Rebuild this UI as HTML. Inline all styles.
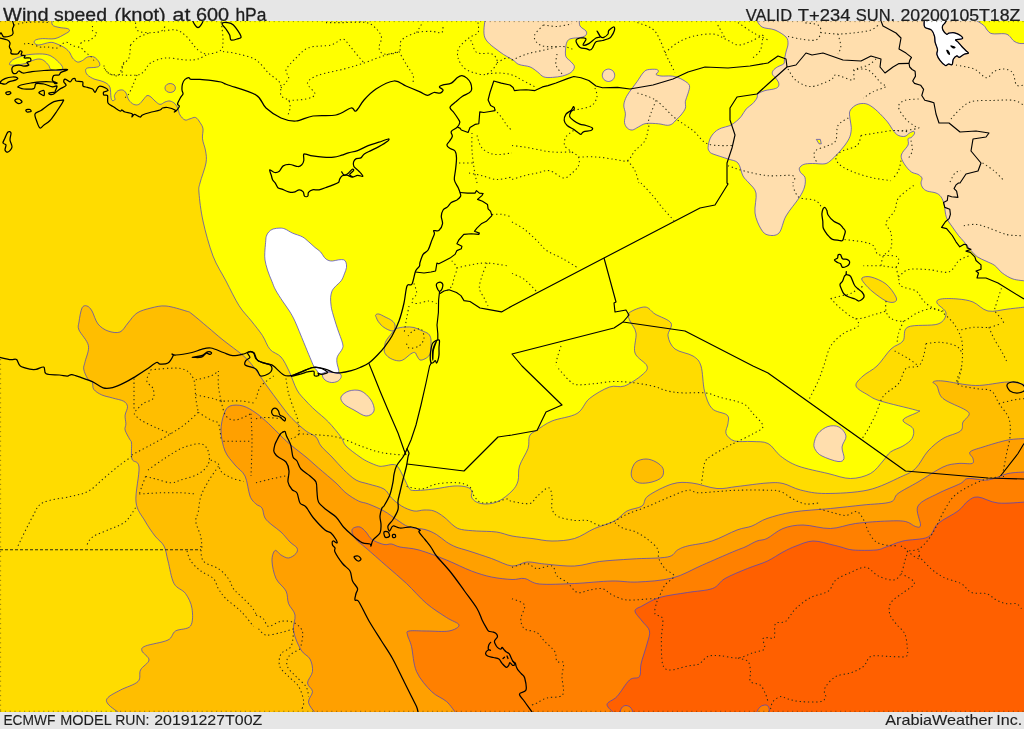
<!DOCTYPE html>
<html><head><meta charset="utf-8"><title>Wind speed</title>
<style>
html,body{margin:0;padding:0;background:#e6e6e6;}
body{width:1024px;height:729px;overflow:hidden;position:relative;font-family:"Liberation Sans",sans-serif;}
svg{position:absolute;left:0;top:0;display:block}
</style></head><body>
<svg width="1024" height="729" viewBox="0 0 1024 729">
<defs><filter id="tf" x="0" y="0" width="1" height="1" filterUnits="objectBoundingBox"><feOffset dx="0" dy="0"/></filter><clipPath id="m"><rect x="0" y="21" width="1024" height="691"/></clipPath></defs>
<rect x="0" y="0" width="1024" height="729" fill="#e6e6e6"/>
<g font-family="Liberation Sans, sans-serif" fill="#1e1e1e" stroke="#1e1e1e" filter="url(#tf)">
<text y="21.2" font-size="18.6" stroke-width="0.3"><tspan x="3.1" textLength="45.4" lengthAdjust="spacingAndGlyphs">Wind</tspan> <tspan x="54.0" textLength="53.0" lengthAdjust="spacingAndGlyphs">speed</tspan> <tspan x="114.6" textLength="51.2" lengthAdjust="spacingAndGlyphs">(knot)</tspan> <tspan x="172.6" textLength="17.8" lengthAdjust="spacingAndGlyphs">at</tspan> <tspan x="196.0" textLength="33.1" lengthAdjust="spacingAndGlyphs">600</tspan> <tspan x="235.4" textLength="31.0" lengthAdjust="spacingAndGlyphs">hPa</tspan></text>
<text y="21.0" font-size="16.8" stroke-width="0.25"><tspan x="745.7" textLength="46.4" lengthAdjust="spacingAndGlyphs">VALID</tspan> <tspan x="797.8" textLength="52.6" lengthAdjust="spacingAndGlyphs">T+234</tspan> <tspan x="855.8" textLength="39.4" lengthAdjust="spacingAndGlyphs">SUN.</tspan> <tspan x="900.5" textLength="119.8" lengthAdjust="spacingAndGlyphs">20200105T18Z</tspan></text>
<text y="725.1" font-size="14.2" stroke-width="0.12"><tspan x="3.4" textLength="52.0" lengthAdjust="spacingAndGlyphs">ECMWF</tspan> <tspan x="60.3" textLength="50.9" lengthAdjust="spacingAndGlyphs">MODEL</tspan> <tspan x="115.2" textLength="34.3" lengthAdjust="spacingAndGlyphs">RUN:</tspan> <tspan x="154.2" textLength="108.1" lengthAdjust="spacingAndGlyphs">20191227T00Z</tspan></text>
<text y="725.4" font-size="14.2" stroke-width="0.12"><tspan x="885.2" textLength="107.8" lengthAdjust="spacingAndGlyphs">ArabiaWeather</tspan> <tspan x="996.3" textLength="25.9" lengthAdjust="spacingAndGlyphs">Inc.</tspan></text>
</g>
<g clip-path="url(#m)">
<rect x="0" y="21" width="1024" height="691" fill="#ffff00"/>

<path d="M52.0,19.0 C52.1,20.0 51.3,23.6 52.5,25.0 C53.7,26.4 56.5,26.8 59.0,27.4 C61.5,28.0 65.8,28.0 67.5,28.6 C69.2,29.2 69.8,30.1 69.4,31.0 C69.0,31.9 67.4,32.7 65.0,34.0 C62.6,35.3 58.8,37.8 55.0,38.6 C51.2,39.4 45.7,38.4 42.5,38.6 C39.3,38.8 37.0,39.3 35.6,40.0 C34.2,40.7 33.9,42.2 34.4,43.0 C34.9,43.8 36.2,45.1 38.8,45.0 C41.4,44.9 47.1,42.6 50.0,42.4 C52.9,42.2 53.5,42.7 56.0,43.6 C58.5,44.5 62.7,46.4 65.0,48.0 C67.3,49.6 68.8,51.3 70.0,53.0 C71.2,54.7 71.2,56.5 72.5,58.0 C73.8,59.5 75.8,61.6 77.5,62.0 C79.2,62.4 80.8,61.3 82.5,60.5 C84.2,59.7 85.6,57.6 87.5,57.0 C89.4,56.4 92.1,56.2 94.0,57.0 C95.9,57.8 98.1,60.5 99.0,62.0 C99.9,63.5 100.1,65.1 99.4,66.0 C98.7,66.9 97.0,67.1 95.0,67.4 C93.0,67.7 89.1,67.5 87.5,68.0 C85.9,68.5 85.6,69.3 85.6,70.5 C85.6,71.7 86.1,73.6 87.5,75.0 C88.9,76.4 91.9,78.1 94.0,79.0 C96.1,79.9 98.0,79.9 100.0,80.6 C102.0,81.3 104.3,81.8 106.0,83.0 C107.7,84.2 109.2,85.1 110.0,87.5 C110.8,89.9 110.6,95.3 111.0,97.5 C111.4,99.7 111.8,100.3 112.5,100.6 C113.2,100.9 114.7,100.2 115.0,99.4 C115.3,98.6 114.0,97.0 114.4,95.6 C114.8,94.2 116.2,91.9 117.5,91.0 C118.8,90.1 121.1,89.7 122.5,90.0 C123.9,90.3 125.0,91.3 126.0,93.0 C127.0,94.7 127.5,98.1 128.8,100.0 C130.1,101.9 132.1,103.7 133.8,104.4 C135.5,105.1 137.3,105.1 138.8,104.4 C140.3,103.7 141.6,101.5 143.0,100.0 C144.4,98.5 145.7,96.1 147.0,95.6 C148.3,95.1 149.7,96.1 151.0,97.0 C152.3,97.9 153.5,99.8 155.0,101.0 C156.5,102.2 158.3,104.2 160.0,104.4 C161.7,104.6 163.3,102.6 165.0,102.0 C166.7,101.4 168.3,100.7 170.0,101.0 C171.7,101.3 173.7,102.5 175.0,103.8 C176.3,105.1 177.2,106.9 178.0,108.8 C178.8,110.7 178.8,113.1 180.0,115.0 C181.2,116.9 183.3,119.4 185.0,120.0 C186.7,120.6 188.2,119.2 190.0,118.8 C191.8,118.4 193.9,116.9 195.6,117.5 C197.3,118.1 198.8,120.6 200.0,122.5 C201.2,124.4 202.6,126.1 203.0,128.8 C203.4,131.5 202.1,135.1 202.5,138.8 C202.9,142.5 205.0,147.0 205.6,151.0 C206.2,155.0 206.9,157.7 206.0,163.0 C205.1,168.3 201.2,178.0 200.0,183.0 C198.8,188.0 198.5,186.7 199.0,193.0 C199.5,199.3 200.7,210.5 203.0,221.0 C205.3,231.5 209.2,246.0 213.0,256.0 C216.8,266.0 221.7,272.7 226.0,281.0 C230.3,289.3 234.8,298.9 239.0,305.6 C243.2,312.3 247.5,316.0 251.4,321.0 C255.3,326.0 259.3,330.7 262.4,335.4 C265.5,340.1 266.9,345.8 270.0,349.4 C273.1,353.0 277.8,353.4 281.0,357.0 C284.2,360.6 286.3,365.5 289.0,371.0 C291.7,376.5 294.2,385.0 297.0,390.0 C299.8,395.0 303.0,397.7 306.0,401.0 C309.0,404.3 311.2,406.5 315.0,410.0 C318.8,413.5 324.2,417.5 328.5,422.0 C332.8,426.5 338.1,433.0 341.0,437.0 C343.9,441.0 342.8,442.7 346.0,446.0 C349.2,449.3 356.2,454.3 360.0,457.0 C363.8,459.7 365.4,460.5 368.5,462.0 C371.6,463.5 375.9,465.3 378.5,466.0 C381.1,466.7 381.6,466.2 384.0,466.0 C386.4,465.8 390.7,464.3 393.0,464.5 C395.3,464.7 396.2,464.8 398.0,467.0 C399.8,469.2 402.2,474.5 404.0,478.0 C405.8,481.5 407.3,485.9 409.0,488.0 C410.7,490.1 409.8,490.3 414.0,490.5 C418.2,490.7 427.3,489.8 434.0,489.0 C440.7,488.2 448.6,486.3 454.0,486.0 C459.4,485.7 463.5,486.2 466.5,487.0 C469.5,487.8 471.2,489.3 472.0,491.0 C472.8,492.7 470.8,495.2 471.5,497.0 C472.2,498.8 474.0,500.8 476.5,502.0 C479.0,503.2 482.8,504.2 486.5,504.0 C490.2,503.8 494.8,503.2 499.0,501.0 C503.2,498.8 508.8,494.3 512.0,491.0 C515.2,487.7 516.8,485.2 518.0,481.0 C519.2,476.8 517.8,471.4 519.5,466.0 C521.2,460.6 526.3,453.5 528.0,448.5 C529.7,443.5 528.0,439.1 529.5,436.0 C531.0,432.9 533.2,432.5 537.0,430.0 C540.8,427.5 545.3,423.8 552.0,421.0 C558.7,418.2 570.8,417.2 577.0,413.5 C583.2,409.8 584.1,402.9 589.5,398.5 C594.9,394.1 603.7,389.1 609.5,387.0 C615.3,384.9 619.1,388.0 624.5,386.0 C629.9,384.0 638.2,378.3 642.0,375.0 C645.8,371.7 648.2,369.7 647.0,366.0 C645.8,362.3 636.8,358.5 635.0,353.0 C633.2,347.5 636.8,338.3 636.0,333.0 C635.2,327.7 631.2,324.3 630.0,321.0 C628.8,317.7 626.5,315.3 629.0,313.0 C631.5,310.7 640.7,306.8 645.0,307.0 C649.3,307.2 650.7,311.3 655.0,314.0 C659.3,316.7 668.8,319.3 671.0,323.0 C673.2,326.7 667.3,331.7 668.0,336.0 C668.7,340.3 670.8,345.7 675.0,349.0 C679.2,352.3 688.7,353.2 693.0,356.0 C697.3,358.8 699.1,360.2 701.0,366.0 C702.9,371.8 702.7,383.9 704.5,391.0 C706.3,398.1 708.2,404.5 712.0,408.5 C715.8,412.5 724.3,412.5 727.0,415.0 C729.7,417.5 728.2,420.4 728.0,423.5 C727.8,426.6 724.9,430.6 726.0,433.5 C727.1,436.4 730.2,439.7 734.5,441.0 C738.8,442.3 746.4,441.1 752.0,441.5 C757.6,441.9 763.2,441.1 768.0,443.5 C772.8,445.9 775.5,452.2 780.5,456.0 C785.5,459.8 790.1,463.1 798.0,466.0 C805.9,468.9 819.2,471.4 828.0,473.5 C836.8,475.6 843.4,478.5 850.5,478.5 C857.6,478.5 865.1,476.4 870.5,473.5 C875.9,470.6 879.7,464.6 883.0,461.0 C886.3,457.4 887.2,454.5 890.5,452.0 C893.8,449.5 899.4,448.2 903.0,446.0 C906.6,443.8 910.3,441.4 912.0,438.5 C913.7,435.6 914.5,431.6 913.0,428.5 C911.5,425.4 902.2,422.8 903.0,420.0 C903.8,417.2 915.9,413.7 918.0,412.0 C920.1,410.3 921.8,411.8 915.5,410.0 C909.2,408.2 888.4,403.5 880.5,401.0 C872.6,398.5 872.1,397.5 868.0,395.0 C863.9,392.5 856.8,389.2 856.0,386.0 C855.2,382.8 859.5,379.3 863.0,376.0 C866.5,372.7 872.3,370.5 877.0,366.0 C881.7,361.5 886.7,353.2 891.0,349.0 C895.3,344.8 900.2,344.7 903.0,341.0 C905.8,337.3 902.2,329.8 908.0,327.0 C913.8,324.2 931.7,326.3 938.0,324.0 C944.3,321.7 946.2,316.5 946.0,313.0 C945.8,309.5 937.8,305.3 937.0,303.0 C936.2,300.7 937.5,299.7 941.0,299.0 C944.5,298.3 952.7,298.5 958.0,299.0 C963.3,299.5 968.0,300.0 973.0,302.0 C978.0,304.0 982.2,309.8 988.0,311.0 C993.8,312.2 1001.7,309.7 1008.0,309.0 C1014.3,308.3 1023.0,307.3 1026.0,307.0 L1030.0,307.0 L1030.0,720.0 L-5.0,720.0 L-5.0,15.0 L51.0,15.0Z" fill="#ffdc00" stroke="#4a40c8" stroke-opacity="0.72" stroke-width="1.0" stroke-linejoin="round"/>
<path d="M9.4,64.0 C9.7,63.2 10.7,61.2 12.5,60.0 C14.3,58.8 17.3,57.7 20.0,56.8 C22.7,55.9 25.1,55.1 28.8,54.6 C32.5,54.1 38.8,53.8 42.5,54.0 C46.2,54.2 48.5,54.8 51.0,56.0 C53.5,57.2 55.7,59.3 57.5,61.0 C59.3,62.7 61.2,64.7 62.0,66.0 C62.8,67.3 62.8,68.2 62.5,69.0 C62.2,69.8 61.9,70.4 60.0,70.5 C58.1,70.6 52.9,70.3 51.0,69.5 C49.1,68.7 50.0,67.0 48.8,65.5 C47.6,64.0 45.5,61.6 43.8,60.5 C42.1,59.4 40.7,59.0 38.8,59.0 C36.9,59.0 34.8,59.7 32.5,60.5 C30.2,61.3 27.8,62.9 25.0,63.6 C22.2,64.3 18.3,64.8 16.0,65.0 C13.7,65.2 12.1,65.2 11.0,65.0 C9.9,64.8 9.2,64.8 9.4,64.0Z" fill="#ffff00" stroke="#4a40c8" stroke-opacity="0.72" stroke-width="1.0" stroke-linejoin="round"/>
<path d="M165.0,88.0 C165.0,86.9 165.6,85.5 166.5,84.8 C167.4,84.0 168.9,83.5 170.2,83.5 C171.4,83.5 173.1,84.0 174.0,84.8 C174.9,85.5 175.4,86.9 175.4,88.0 C175.4,89.1 174.9,90.5 174.0,91.2 C173.1,92.0 171.4,92.5 170.2,92.5 C168.9,92.5 167.4,92.0 166.5,91.2 C165.6,90.5 165.0,89.1 165.0,88.0Z" fill="#ffdc00" stroke="#4a40c8" stroke-opacity="0.72" stroke-width="1.0" stroke-linejoin="round"/>
<path d="M375.6,315.0 C376.0,314.4 377.2,313.7 378.8,314.0 C380.4,314.3 382.8,315.8 385.0,316.9 C387.2,318.0 390.2,319.2 391.9,320.6 C393.6,322.0 394.7,323.3 395.0,325.0 C395.3,326.7 394.8,329.8 393.8,330.6 C392.8,331.4 390.7,330.7 388.8,330.0 C386.9,329.3 384.3,327.8 382.5,326.3 C380.7,324.9 379.1,322.8 378.1,321.3 C377.1,319.8 376.7,318.6 376.3,317.5 C375.9,316.4 375.2,315.6 375.6,315.0Z" fill="#ffdc00" stroke="#4a40c8" stroke-opacity="0.72" stroke-width="1.0" stroke-linejoin="round"/>
<path d="M392.0,333.0 C393.6,331.0 393.7,329.8 395.9,328.8 C398.1,327.8 402.0,327.2 405.0,327.0 C408.0,326.8 411.2,326.9 414.0,327.5 C416.8,328.1 419.1,329.6 421.5,330.6 C423.9,331.7 426.8,332.4 428.4,333.8 C430.0,335.2 430.5,337.1 430.9,338.8 C431.3,340.5 431.0,342.1 431.0,344.0 C431.0,345.9 431.1,348.2 430.9,350.0 C430.7,351.8 430.6,353.5 429.6,355.0 C428.6,356.5 426.6,358.0 425.0,358.8 C423.4,359.6 421.3,360.5 420.0,360.0 C418.7,359.5 417.8,357.2 417.0,356.0 C416.2,354.8 416.0,352.9 415.0,352.5 C414.0,352.1 412.9,352.6 410.9,353.8 C408.9,355.1 405.2,358.9 402.8,360.0 C400.4,361.1 398.8,361.0 396.5,360.6 C394.2,360.2 391.0,358.9 389.0,357.5 C387.0,356.1 385.3,354.2 384.6,352.5 C383.9,350.8 384.4,348.9 384.6,347.0 C384.8,345.1 384.8,343.3 386.0,341.0 C387.2,338.7 390.4,335.0 392.0,333.0Z" fill="#ffdc00" stroke="#4a40c8" stroke-opacity="0.72" stroke-width="1.0" stroke-linejoin="round"/>
<path d="M862.0,278.0 C863.1,276.9 867.0,276.0 871.0,277.0 C875.0,278.0 881.8,280.7 886.0,284.0 C890.2,287.3 894.6,294.0 896.0,297.0 C897.4,300.0 896.2,301.3 894.5,302.0 C892.8,302.7 889.6,302.7 886.0,301.0 C882.4,299.3 876.6,294.9 873.0,292.0 C869.4,289.1 866.3,285.8 864.5,283.5 C862.7,281.2 860.9,279.1 862.0,278.0Z" fill="#ffdc00" stroke="#4a40c8" stroke-opacity="0.72" stroke-width="1.0" stroke-linejoin="round"/>
<path d="M120.5,714.0 C118.4,712.3 110.1,706.8 108.0,704.0 C105.9,701.2 105.9,699.8 108.0,697.5 C110.1,695.2 115.5,692.7 120.5,690.0 C125.5,687.3 134.7,684.8 138.0,681.5 C141.3,678.2 138.7,673.6 140.5,670.0 C142.3,666.4 148.8,663.2 149.0,660.0 C149.2,656.8 142.6,653.3 142.0,651.0 C141.4,648.7 141.2,647.8 145.5,646.0 C149.8,644.2 163.0,642.5 168.0,640.0 C173.0,637.5 171.8,633.3 175.5,631.0 C179.2,628.7 187.8,629.8 190.5,626.0 C193.2,622.2 192.8,613.9 192.0,608.5 C191.2,603.1 188.5,597.7 185.5,593.5 C182.5,589.3 176.9,588.9 174.0,583.5 C171.1,578.1 169.7,567.2 168.0,561.0 C166.3,554.8 166.2,550.2 164.0,546.0 C161.8,541.8 158.2,540.2 155.0,536.0 C151.8,531.8 148.2,526.7 145.0,521.0 C141.8,515.3 137.0,511.0 136.0,502.0 C135.0,493.0 139.7,474.2 139.0,467.0 C138.3,459.8 133.2,463.0 132.0,459.0 C130.8,455.0 131.9,446.2 131.5,443.0 C131.1,439.8 130.9,441.6 129.8,439.5 C128.7,437.4 125.8,432.7 125.1,430.1 C124.4,427.5 125.9,426.3 125.9,423.8 C125.9,421.3 124.8,418.1 125.1,415.2 C125.4,412.3 127.8,408.9 127.5,406.6 C127.2,404.3 126.1,402.6 123.6,401.2 C121.1,399.8 116.2,399.1 112.6,398.0 C108.9,396.9 104.8,396.3 101.7,394.9 C98.6,393.5 95.4,391.5 93.8,389.4 C92.2,387.3 93.3,384.2 92.3,382.4 C91.3,380.6 89.0,380.7 87.6,378.5 C86.2,376.3 84.1,372.0 83.7,369.1 C83.3,366.2 84.4,365.2 85.2,361.3 C86.0,357.4 89.4,350.8 88.4,345.6 C87.4,340.4 80.6,333.9 79.0,330.0 C77.4,326.1 78.5,325.7 79.0,322.0 C79.5,318.3 80.7,310.7 82.0,308.0 C83.3,305.3 85.3,305.5 87.0,306.0 C88.7,306.5 90.2,308.0 92.0,311.0 C93.8,314.0 95.3,320.7 98.0,324.0 C100.7,327.3 104.3,329.7 108.0,331.0 C111.7,332.3 116.7,333.3 120.0,332.0 C123.3,330.7 125.2,326.2 128.0,323.0 C130.8,319.8 133.2,315.5 137.0,313.0 C140.8,310.5 146.2,309.2 151.0,308.0 C155.8,306.8 160.2,305.5 166.0,306.0 C171.8,306.5 181.7,309.7 186.0,311.0 C190.3,312.3 188.4,311.3 192.0,314.0 C195.6,316.7 202.4,322.7 207.6,327.0 C212.8,331.3 217.0,335.2 223.0,340.0 C229.0,344.8 238.3,351.3 243.6,356.0 C248.8,360.7 250.8,363.3 254.5,368.0 C258.1,372.7 261.1,377.8 265.5,384.0 C269.9,390.2 276.6,399.2 281.0,405.0 C285.4,410.8 287.8,414.2 292.0,418.5 C296.2,422.8 302.0,427.9 306.0,431.0 C310.0,434.1 313.5,434.5 316.0,437.0 C318.5,439.5 318.3,442.7 321.0,446.0 C323.7,449.3 328.2,453.1 332.0,457.0 C335.8,460.9 339.5,465.7 343.5,469.5 C347.5,473.3 351.8,477.6 356.0,480.0 C360.2,482.4 363.8,482.5 368.5,484.0 C373.2,485.5 380.2,486.7 384.0,489.0 C387.8,491.3 388.6,495.2 391.5,498.0 C394.4,500.8 397.8,503.8 401.5,506.0 C405.2,508.2 410.2,510.3 414.0,511.0 C417.8,511.7 420.7,510.0 424.0,510.0 C427.3,510.0 430.7,509.8 434.0,511.0 C437.3,512.2 440.7,514.5 444.0,517.0 C447.3,519.5 451.1,523.9 454.0,526.0 C456.9,528.1 457.8,528.7 461.5,529.5 C465.2,530.3 470.7,530.6 476.5,531.0 C482.3,531.4 490.6,531.2 496.5,532.0 C502.4,532.8 506.1,534.9 512.0,536.0 C517.9,537.1 525.3,537.7 532.0,538.5 C538.7,539.3 544.9,541.0 552.0,541.0 C559.1,541.0 567.4,540.6 574.5,538.5 C581.6,536.4 587.8,531.4 594.5,528.5 C601.2,525.6 609.1,523.9 614.5,521.0 C619.9,518.1 622.4,513.5 627.0,511.0 C631.6,508.5 638.5,508.5 642.0,506.0 C645.5,503.5 643.0,499.7 648.0,496.0 C653.0,492.3 664.7,486.2 672.0,484.0 C679.3,481.8 684.5,482.2 692.0,483.0 C699.5,483.8 709.5,487.9 717.0,488.5 C724.5,489.1 728.7,487.4 737.0,486.5 C745.3,485.6 759.3,483.5 767.0,483.0 C774.7,482.5 777.4,482.3 783.0,483.5 C788.6,484.7 793.4,488.3 800.5,490.0 C807.6,491.7 814.2,493.5 825.5,493.5 C836.8,493.5 855.5,492.8 868.0,490.0 C880.5,487.2 892.6,480.6 900.5,477.0 C908.4,473.4 910.9,472.8 915.5,468.5 C920.1,464.2 923.4,456.0 928.0,451.0 C932.6,446.0 937.6,441.8 943.0,438.5 C948.4,435.2 957.2,433.8 960.5,431.0 C963.8,428.2 961.6,424.7 963.0,422.0 C964.4,419.3 968.6,417.0 969.0,415.0 C969.4,413.0 969.8,412.8 965.5,410.0 C961.2,407.2 947.8,402.5 943.0,398.5 C938.2,394.5 938.7,388.8 937.0,386.0 C935.3,383.2 932.0,382.8 933.0,382.0 C934.0,381.2 935.9,380.4 943.0,381.0 C950.1,381.6 964.7,385.3 975.5,385.5 C986.3,385.7 999.6,382.1 1008.0,382.0 C1016.4,381.9 1023.0,384.5 1026.0,385.0 L1030.0,385.0 L1030.0,720.0 L120.0,720.0Z" fill="#ffbe00" stroke="#4a40c8" stroke-opacity="0.72" stroke-width="1.0" stroke-linejoin="round"/>
<path d="M631.5,471.0 C632.1,468.2 633.6,464.0 636.0,462.0 C638.4,460.0 642.7,459.0 646.0,459.0 C649.3,459.0 653.2,460.4 656.0,462.0 C658.8,463.6 662.0,466.0 663.0,468.5 C664.0,471.0 663.8,474.8 662.0,477.0 C660.2,479.2 655.8,481.0 652.0,482.0 C648.2,483.0 642.8,483.6 639.5,483.0 C636.2,482.4 633.8,480.5 632.5,478.5 C631.2,476.5 630.9,473.8 631.5,471.0Z" fill="#ffbe00" stroke="#4a40c8" stroke-opacity="0.72" stroke-width="1.0" stroke-linejoin="round"/>
<path d="M316.0,714.0 C314.8,712.1 309.1,706.2 308.5,702.5 C307.9,698.8 312.7,694.8 312.5,691.5 C312.3,688.2 307.5,686.3 307.5,683.0 C307.5,679.7 312.1,675.5 312.5,671.5 C312.9,667.5 311.9,662.6 310.0,659.0 C308.1,655.4 303.8,654.7 301.0,650.0 C298.2,645.3 294.5,636.8 293.5,631.0 C292.5,625.2 295.8,619.6 295.0,615.0 C294.2,610.4 290.0,607.5 288.5,603.5 C287.0,599.5 288.1,595.2 286.0,591.0 C283.9,586.8 278.3,583.5 276.0,578.5 C273.7,573.5 272.2,565.7 272.0,561.0 C271.8,556.3 273.5,551.5 275.0,550.5 C276.5,549.5 278.8,553.8 281.0,555.0 C283.2,556.2 286.0,558.2 288.5,558.0 C291.0,557.8 294.6,555.2 296.0,553.5 C297.4,551.8 298.0,549.9 297.0,548.0 C296.0,546.1 292.7,544.7 290.0,542.0 C287.3,539.3 284.0,534.8 281.0,532.0 C278.0,529.2 274.7,527.3 272.0,525.0 C269.3,522.7 266.7,520.8 265.0,518.0 C263.3,515.2 263.5,510.3 262.0,508.0 C260.5,505.7 258.0,506.0 256.0,504.0 C254.0,502.0 251.8,500.7 250.0,496.0 C248.2,491.3 247.5,481.2 245.0,476.0 C242.5,470.8 238.3,469.2 235.0,465.0 C231.7,460.8 227.3,456.7 225.0,451.0 C222.7,445.3 221.2,437.2 221.0,431.0 C220.8,424.8 222.5,418.2 224.0,414.0 C225.5,409.8 226.8,407.3 230.0,406.0 C233.2,404.7 238.7,404.8 243.0,406.0 C247.3,407.2 251.8,410.1 256.0,413.0 C260.2,415.9 264.3,419.7 268.5,423.5 C272.7,427.3 277.1,432.2 281.0,436.0 C284.9,439.8 287.8,442.5 292.0,446.0 C296.2,449.5 301.6,453.3 306.0,457.0 C310.4,460.7 313.5,463.7 318.5,468.0 C323.5,472.3 331.4,478.8 336.0,483.0 C340.6,487.2 342.2,490.0 346.0,493.0 C349.8,496.0 354.8,499.2 358.5,501.0 C362.2,502.8 364.2,502.3 368.5,504.0 C372.8,505.7 379.3,508.4 384.0,511.0 C388.7,513.6 392.3,516.8 396.5,519.5 C400.7,522.2 404.2,525.3 409.0,527.0 C413.8,528.7 420.4,528.2 425.0,529.5 C429.6,530.8 432.9,532.4 436.5,534.5 C440.1,536.6 443.2,539.9 446.5,542.0 C449.8,544.1 452.2,545.5 456.0,547.0 C459.8,548.5 463.1,549.1 469.0,551.0 C474.9,552.9 484.3,556.0 491.5,558.5 C498.7,561.0 506.1,565.4 512.0,566.0 C517.9,566.6 521.6,562.3 527.0,562.0 C532.4,561.7 536.6,563.3 544.5,564.0 C552.4,564.7 565.3,566.4 574.5,566.0 C583.7,565.6 589.9,562.7 599.5,561.5 C609.1,560.3 620.7,559.8 632.0,559.0 C643.3,558.2 659.9,558.5 667.5,557.0 C675.1,555.5 674.2,551.8 677.5,550.0 C680.8,548.2 681.8,547.5 687.5,546.0 C693.2,544.5 703.8,543.7 712.0,541.0 C720.2,538.3 730.3,532.5 737.0,530.0 C743.7,527.5 747.0,527.9 752.0,526.0 C757.0,524.1 760.2,520.8 767.0,518.5 C773.8,516.2 782.4,513.7 793.0,512.0 C803.6,510.3 818.8,509.7 830.5,508.5 C842.2,507.3 853.0,506.1 863.0,505.0 C873.0,503.9 884.7,503.9 890.5,502.0 C896.3,500.1 893.4,496.8 898.0,493.5 C902.6,490.2 910.5,486.4 918.0,482.0 C925.5,477.6 936.3,470.1 943.0,467.0 C949.7,463.9 953.2,464.1 958.0,463.5 C962.8,462.9 969.5,464.3 972.0,463.5 C974.5,462.7 973.3,460.4 973.0,458.5 C972.7,456.6 968.3,453.9 970.0,452.0 C971.7,450.1 976.7,449.0 983.0,447.0 C989.3,445.0 1000.8,441.4 1008.0,440.0 C1015.2,438.6 1023.0,438.8 1026.0,438.5 L1030.0,438.0 L1030.0,720.0 L316.0,720.0Z" fill="#ffa000" stroke="#4a40c8" stroke-opacity="0.72" stroke-width="1.0" stroke-linejoin="round"/>
<path d="M456.5,714.0 C454.8,711.9 450.7,705.2 446.5,701.5 C442.3,697.8 436.5,696.5 431.5,691.5 C426.5,686.5 419.8,679.0 416.5,671.5 C413.2,664.0 413.0,652.6 411.5,646.5 C410.0,640.4 407.9,637.6 407.5,635.0 C407.1,632.4 405.8,631.7 409.0,631.0 C412.2,630.3 419.8,631.0 426.5,631.0 C433.2,631.0 443.6,632.0 449.0,631.0 C454.4,630.0 459.4,627.2 459.0,625.0 C458.6,622.8 451.9,621.1 446.5,617.5 C441.1,613.9 433.2,609.2 426.5,603.5 C419.8,597.8 413.2,589.8 406.5,583.5 C399.8,577.2 393.2,571.9 386.5,566.0 C379.8,560.1 371.1,552.4 366.0,548.0 C360.9,543.6 358.3,542.2 356.0,539.5 C353.7,536.8 352.4,533.9 352.0,532.0 C351.6,530.1 352.2,528.8 353.5,528.0 C354.8,527.2 357.9,526.3 360.0,527.0 C362.1,527.7 364.0,529.9 366.0,532.0 C368.0,534.1 369.0,537.4 372.0,539.5 C375.0,541.6 380.8,543.8 384.0,544.5 C387.2,545.2 388.8,543.6 391.5,544.0 C394.2,544.4 395.4,546.0 400.0,547.0 C404.6,548.0 411.2,547.8 419.0,550.0 C426.8,552.2 437.8,556.5 446.5,560.0 C455.2,563.5 464.0,568.2 471.5,571.0 C479.0,573.8 484.8,575.6 491.5,577.0 C498.2,578.4 506.5,579.2 512.0,579.5 C517.5,579.8 519.9,577.8 524.5,578.5 C529.1,579.2 531.2,583.2 539.5,584.0 C547.8,584.8 562.4,584.0 574.5,583.5 C586.6,583.0 601.5,581.2 612.0,581.0 C622.5,580.8 627.4,582.5 637.5,582.0 C647.6,581.5 661.7,580.8 672.5,578.0 C683.3,575.2 692.5,569.3 702.5,565.0 C712.5,560.7 725.4,555.0 732.5,552.0 C739.6,549.0 740.9,548.8 745.0,547.0 C749.1,545.2 753.3,542.4 757.0,541.0 C760.7,539.6 762.7,540.6 767.0,538.5 C771.3,536.4 777.0,530.8 783.0,528.5 C789.0,526.2 795.1,525.0 803.0,525.0 C810.9,525.0 821.8,528.8 830.5,528.5 C839.2,528.2 845.9,524.8 855.5,523.5 C865.1,522.2 879.7,521.3 888.0,521.0 C896.3,520.7 900.9,520.6 905.5,521.5 C910.1,522.4 913.0,525.9 915.5,526.5 C918.0,527.1 920.1,528.4 920.5,525.0 C920.9,521.6 915.1,511.2 918.0,506.0 C920.9,500.8 930.9,497.2 938.0,493.5 C945.1,489.8 955.5,486.0 960.5,483.5 C965.5,481.0 963.4,479.1 968.0,478.5 C972.6,477.9 981.3,480.8 988.0,480.0 C994.7,479.2 1001.7,474.8 1008.0,473.5 C1014.3,472.2 1023.0,472.2 1026.0,472.0 L1030.0,472.0 L1030.0,720.0 L456.0,720.0Z" fill="#ff8000" stroke="#4a40c8" stroke-opacity="0.72" stroke-width="1.0" stroke-linejoin="round"/>
<path d="M615.0,714.0 C613.7,712.4 606.7,707.4 607.0,704.5 C607.3,701.6 613.2,700.6 617.0,696.5 C620.8,692.4 625.8,683.3 629.5,680.0 C633.2,676.7 637.6,679.2 639.5,676.5 C641.4,673.8 639.8,669.4 641.0,664.0 C642.2,658.6 645.6,649.5 647.0,644.0 C648.4,638.5 650.3,634.8 649.5,631.0 C648.7,627.2 644.4,624.3 642.0,621.0 C639.6,617.7 635.0,613.5 635.0,611.0 C635.0,608.5 637.9,608.2 642.0,606.0 C646.1,603.8 651.9,599.8 659.5,597.5 C667.1,595.2 678.7,594.0 687.5,592.5 C696.3,591.0 706.2,590.8 712.5,588.5 C718.8,586.2 719.2,581.8 725.0,578.5 C730.8,575.2 740.4,571.4 747.5,568.5 C754.6,565.6 761.6,563.8 767.5,561.0 C773.4,558.2 778.2,554.5 783.0,552.0 C787.8,549.5 791.0,547.8 796.0,546.0 C801.0,544.2 806.8,541.2 813.0,541.0 C819.2,540.8 828.3,544.0 833.0,545.0 C837.7,546.0 837.7,546.2 841.0,547.0 C844.3,547.8 847.2,549.5 853.0,550.0 C858.8,550.5 870.5,550.5 876.0,550.0 C881.5,549.5 881.5,548.5 886.0,547.0 C890.5,545.5 896.0,542.7 903.0,541.0 C910.0,539.3 922.2,539.9 928.0,537.0 C933.8,534.1 933.0,527.8 938.0,523.5 C943.0,519.2 953.0,514.8 958.0,511.0 C963.0,507.2 964.7,503.3 968.0,501.0 C971.3,498.7 973.0,496.7 978.0,497.0 C983.0,497.3 990.0,502.2 998.0,503.0 C1006.0,503.8 1021.3,502.2 1026.0,502.0 L1030.0,502.0 L1030.0,720.0 L615.0,720.0Z" fill="#ff6000" stroke="#4a40c8" stroke-opacity="0.72" stroke-width="1.0" stroke-linejoin="round"/>
<path d="M621.0,714.0 C619.2,713.0 620.7,709.4 621.5,708.0 C622.3,706.6 624.4,705.5 626.0,705.5 C627.6,705.5 630.0,706.6 631.0,708.0 C632.0,709.4 633.7,713.0 632.0,714.0 C630.3,715.0 622.8,715.0 621.0,714.0Z" fill="#ff8000" stroke="#4a40c8" stroke-opacity="0.72" stroke-width="1.0" stroke-linejoin="round"/>
<path d="M757.0,714.0 C755.7,712.8 758.5,708.5 760.0,707.0 C761.5,705.5 764.5,704.8 766.0,705.0 C767.5,705.2 768.7,706.5 769.0,708.0 C769.3,709.5 770.0,713.0 768.0,714.0 C766.0,715.0 758.3,715.2 757.0,714.0Z" fill="#ff8000" stroke="#4a40c8" stroke-opacity="0.72" stroke-width="1.0" stroke-linejoin="round"/>
<path d="M485.0,19.0 C485.0,22.2 482.5,32.5 485.0,38.0 C487.5,43.5 495.3,48.3 500.0,52.0 C504.7,55.7 509.9,57.9 513.0,60.0 C516.1,62.1 516.0,63.3 518.8,64.4 C521.6,65.6 526.9,65.7 530.0,66.9 C533.1,68.2 535.2,70.2 537.5,71.9 C539.8,73.6 541.3,76.0 543.8,76.9 C546.3,77.8 549.4,77.6 552.5,77.4 C555.6,77.2 559.4,76.8 562.5,76.0 C565.6,75.2 569.0,73.9 571.0,72.4 C573.0,70.9 574.4,68.6 574.4,66.8 C574.4,65.0 572.4,63.5 571.0,61.8 C569.6,60.1 566.9,58.9 566.0,56.8 C565.1,54.7 565.4,51.5 565.6,49.0 C565.8,46.5 566.1,43.5 567.0,41.8 C567.9,40.1 568.7,39.3 571.0,38.6 C573.3,37.9 578.5,38.0 581.0,37.4 C583.5,36.8 585.2,36.1 586.0,35.0 C586.8,33.9 587.0,32.5 586.0,31.0 C585.0,29.5 581.1,28.0 580.0,26.0 C578.9,24.0 579.5,20.2 579.4,19.0 L580.0,15.0 L485.0,15.0Z" fill="#ffdead" stroke="#4a40c8" stroke-opacity="0.72" stroke-width="1.0" stroke-linejoin="round"/>
<path d="M602.3,75.3 C602.3,73.8 603.1,71.9 604.1,70.9 C605.1,69.9 607.0,69.1 608.5,69.1 C610.0,69.1 611.9,69.9 612.9,70.9 C613.9,71.9 614.7,73.8 614.7,75.3 C614.7,76.8 613.9,78.7 612.9,79.7 C611.9,80.7 610.0,81.5 608.5,81.5 C607.0,81.5 605.1,80.7 604.1,79.7 C603.1,78.7 602.3,76.8 602.3,75.3Z" fill="#ffdead" stroke="#4a40c8" stroke-opacity="0.72" stroke-width="1.0" stroke-linejoin="round"/>
<path d="M632.3,88.1 C634.1,85.6 635.5,83.8 637.3,81.3 C639.1,78.8 641.2,75.0 642.9,73.1 C644.6,71.2 645.0,70.4 647.3,69.8 C649.6,69.2 654.8,69.1 656.6,69.4 C658.4,69.8 658.4,71.1 658.3,71.9 C658.2,72.7 655.5,73.7 656.0,74.4 C656.5,75.1 658.5,75.7 661.0,76.0 C663.5,76.3 668.3,75.8 671.0,76.0 C673.7,76.2 675.1,76.5 677.3,77.3 C679.5,78.1 682.1,79.2 684.1,80.6 C686.1,82.0 688.9,83.4 689.5,85.6 C690.1,87.8 688.6,91.2 687.9,93.8 C687.2,96.4 685.8,98.9 685.4,101.3 C685.0,103.7 686.1,105.8 685.4,108.1 C684.7,110.4 682.6,113.0 681.0,115.0 C679.4,117.0 677.5,118.5 676.0,120.0 C674.5,121.5 673.8,122.9 672.3,123.8 C670.8,124.7 669.6,125.3 667.3,125.3 C665.0,125.3 662.0,124.1 658.5,123.8 C655.0,123.5 649.3,123.0 646.0,123.5 C642.7,124.0 640.8,125.8 638.5,126.9 C636.2,128.0 634.2,129.8 632.3,130.0 C630.4,130.2 628.6,129.3 627.3,128.1 C626.0,126.8 624.8,124.9 624.5,122.5 C624.2,120.1 625.5,116.7 625.4,113.8 C625.3,110.9 623.6,107.9 623.8,105.0 C624.0,102.1 625.2,99.1 626.6,96.3 C628.0,93.5 630.5,90.6 632.3,88.1Z" fill="#ffdead" stroke="#4a40c8" stroke-opacity="0.72" stroke-width="1.0" stroke-linejoin="round"/>
<path d="M756.0,19.0 C757.0,20.3 758.8,25.2 762.0,27.0 C765.2,28.8 771.0,28.3 775.0,30.0 C779.0,31.7 783.8,34.7 786.0,37.0 C788.2,39.3 788.0,41.5 788.0,44.0 C788.0,46.5 786.6,49.3 786.0,52.0 C785.4,54.7 784.8,58.0 784.4,60.0 C784.0,62.0 784.9,62.6 783.8,63.8 C782.6,65.0 779.3,65.8 777.5,66.9 C775.7,68.0 773.9,69.3 773.1,70.6 C772.3,71.8 772.0,73.0 772.5,74.4 C773.0,75.8 775.2,77.3 776.3,78.8 C777.3,80.2 778.5,81.8 778.8,83.1 C779.1,84.4 778.9,85.9 778.1,86.9 C777.3,87.9 776.0,88.4 773.8,89.0 C771.6,89.6 767.6,89.8 765.0,90.6 C762.4,91.4 759.5,92.5 758.1,93.8 C756.8,95.0 757.8,96.4 756.9,98.1 C756.0,99.8 754.3,102.0 752.5,103.8 C750.7,105.6 748.2,106.7 746.3,108.8 C744.4,110.9 743.0,114.2 741.3,116.3 C739.6,118.4 738.2,119.8 736.3,121.3 C734.4,122.8 732.5,124.5 730.0,125.6 C727.5,126.7 723.8,127.0 721.3,128.1 C718.8,129.2 716.9,130.1 715.0,131.9 C713.1,133.7 711.1,136.2 710.0,138.8 C708.9,141.4 708.2,145.4 708.1,147.5 C708.0,149.6 708.7,150.4 709.5,151.5 C710.3,152.6 709.9,152.8 713.0,154.0 C716.1,155.2 723.8,157.5 728.0,159.0 C732.2,160.5 735.5,160.2 738.0,163.0 C740.5,165.8 741.2,172.7 743.0,176.0 C744.8,179.3 746.8,180.2 749.0,183.0 C751.2,185.8 755.0,188.0 756.0,193.0 C757.0,198.0 754.2,207.0 755.0,213.0 C755.8,219.0 758.8,225.3 761.0,229.0 C763.2,232.7 765.0,234.3 768.0,235.0 C771.0,235.7 776.0,236.2 779.0,233.0 C782.0,229.8 782.7,221.8 786.0,216.0 C789.3,210.2 795.9,202.8 799.0,198.0 C802.1,193.2 803.5,190.4 804.5,187.0 C805.5,183.6 805.6,179.9 805.0,177.5 C804.4,175.1 801.5,174.1 800.6,172.5 C799.7,170.9 798.9,169.4 799.4,168.1 C799.9,166.8 801.6,165.2 803.8,164.4 C806.0,163.6 809.0,163.6 812.5,163.5 C816.0,163.4 821.9,164.4 825.0,163.8 C828.1,163.2 829.2,161.7 831.3,160.0 C833.4,158.3 835.2,156.3 837.5,153.8 C839.8,151.3 842.9,147.9 845.0,145.0 C847.1,142.1 849.0,139.2 850.0,136.3 C851.0,133.4 851.3,130.4 851.3,127.5 C851.3,124.6 850.2,121.5 850.0,118.8 C849.8,116.1 849.0,113.5 849.8,111.3 C850.6,109.1 853.0,106.9 855.0,105.6 C857.0,104.3 859.6,103.6 861.9,103.5 C864.2,103.4 866.2,103.5 868.8,104.8 C871.4,106.1 874.4,108.4 877.5,111.3 C880.6,114.2 884.8,118.6 887.5,121.9 C890.2,125.2 891.9,129.0 893.8,131.3 C895.7,133.6 896.9,134.8 898.8,135.6 C900.7,136.4 903.2,136.7 905.0,136.3 C906.8,135.9 907.9,133.9 909.4,133.1 C910.9,132.3 913.0,131.2 913.8,131.3 C914.6,131.4 914.8,132.8 914.4,133.8 C914.0,134.8 912.3,136.7 911.3,137.5 C910.2,138.3 908.6,137.6 908.1,138.8 C907.6,140.1 909.0,142.7 908.1,145.0 C907.2,147.3 903.6,150.4 902.5,152.5 C901.4,154.6 900.9,155.4 901.3,157.5 C901.7,159.6 903.3,162.6 905.0,165.0 C906.7,167.4 909.1,170.3 911.3,171.9 C913.5,173.5 916.2,173.4 918.0,174.4 C919.8,175.4 921.5,176.6 922.0,178.0 C922.5,179.4 920.9,181.3 921.0,183.0 C921.1,184.7 921.9,186.7 922.9,188.0 C923.9,189.3 925.1,190.3 927.3,191.1 C929.5,191.9 933.7,192.1 936.0,193.0 C938.3,193.9 939.6,194.9 941.0,196.8 C942.4,198.7 943.4,201.6 944.1,204.3 C944.8,207.0 944.9,210.5 945.4,213.0 C945.9,215.5 946.1,217.0 947.3,219.3 C948.4,221.6 950.4,224.1 952.3,226.8 C954.2,229.5 956.5,233.0 958.5,235.5 C960.5,238.0 962.0,239.3 964.1,241.8 C966.2,244.3 968.8,248.0 971.0,250.5 C973.2,253.0 974.8,255.0 977.3,256.8 C979.8,258.6 983.1,259.7 986.0,261.1 C988.9,262.6 992.1,263.5 994.8,265.5 C997.5,267.5 999.3,270.8 1002.3,273.0 C1005.3,275.2 1009.0,277.7 1013.0,279.0 C1017.0,280.3 1023.8,280.7 1026.0,281.0 L1030.0,281.0 L1030.0,15.0 L756.0,15.0Z" fill="#ffdead" stroke="#4a40c8" stroke-opacity="0.72" stroke-width="1.0" stroke-linejoin="round"/>
<path d="M973.9,19.0 C975.5,20.1 981.4,23.4 983.6,25.3 C985.8,27.2 985.8,28.7 987.2,30.1 C988.6,31.5 989.2,33.1 992.0,33.7 C994.8,34.3 1001.3,33.4 1004.1,33.7 C1006.9,34.0 1007.4,34.4 1009.0,35.6 C1010.6,36.8 1012.1,39.7 1013.8,41.0 C1015.5,42.3 1017.3,43.0 1019.3,43.4 C1021.3,43.8 1024.9,43.4 1026.0,43.4 L1030.0,43.0 L1030.0,15.0 L976.0,15.0Z" fill="#ffff00" stroke="#4a40c8" stroke-opacity="0.72" stroke-width="1.0" stroke-linejoin="round"/>
<path d="M816.3,139.4 L820.3,139.4 L821.3,143.8 L819.0,143.8Z" fill="#ffff00" stroke="#4a40c8" stroke-opacity="0.72" stroke-width="1.0" stroke-linejoin="round"/>
<path d="M814.0,443.5 C814.4,440.8 815.7,436.3 818.0,433.5 C820.3,430.7 824.5,427.6 828.0,426.5 C831.5,425.4 836.0,425.4 839.0,427.0 C842.0,428.6 845.5,432.7 846.0,436.0 C846.5,439.3 842.3,443.2 842.0,447.0 C841.7,450.8 844.7,456.1 844.0,458.5 C843.3,460.9 841.7,461.9 838.0,461.5 C834.3,461.1 825.8,457.9 822.0,456.0 C818.2,454.1 816.8,452.1 815.5,450.0 C814.2,447.9 813.6,446.2 814.0,443.5Z" fill="#ffdead" stroke="#4a40c8" stroke-opacity="0.72" stroke-width="1.0" stroke-linejoin="round"/>
<path d="M341.0,397.0 C341.8,394.8 345.7,392.0 349.0,391.0 C352.3,390.0 357.3,389.5 361.0,391.0 C364.7,392.5 368.8,396.7 371.0,400.0 C373.2,403.3 374.8,408.3 374.0,411.0 C373.2,413.7 369.3,416.2 366.0,416.0 C362.7,415.8 357.7,412.0 354.0,410.0 C350.3,408.0 346.2,406.2 344.0,404.0 C341.8,401.8 340.2,399.2 341.0,397.0Z" fill="#ffdead" stroke="#4a40c8" stroke-opacity="0.72" stroke-width="1.0" stroke-linejoin="round"/>
<path d="M322.5,375.0 C322.1,376.2 323.5,378.8 325.0,380.0 C326.5,381.2 329.2,382.3 331.3,382.5 C333.4,382.7 335.9,382.1 337.5,381.3 C339.1,380.5 340.6,378.8 341.0,377.5 C341.4,376.2 341.4,374.6 340.0,373.8 C338.6,373.0 334.6,372.7 332.5,372.5 C330.4,372.3 329.2,372.1 327.5,372.5 C325.8,372.9 322.9,373.8 322.5,375.0Z" fill="#ffdead" stroke="#4a40c8" stroke-opacity="0.72" stroke-width="1.0" stroke-linejoin="round"/>
<path d="M924.0,17.0 C920.4,17.7 924.1,19.3 924.2,21.0 C924.3,22.7 923.6,25.6 924.8,27.1 C926.0,28.6 929.9,28.6 931.5,30.1 C933.1,31.6 933.9,34.2 934.5,36.2 C935.1,38.2 934.6,40.0 935.1,42.2 C935.6,44.4 937.2,47.5 937.5,49.5 C937.8,51.5 936.5,52.5 936.9,54.3 C937.3,56.1 938.6,58.5 940.0,60.4 C941.4,62.3 944.0,64.9 945.4,65.5 C946.8,66.1 947.3,64.2 948.4,64.0 C949.5,63.9 951.3,65.4 952.1,64.6 C952.9,63.8 952.5,60.7 953.3,59.2 C954.1,57.7 955.9,56.1 956.9,55.8 C957.9,55.5 958.1,57.6 959.3,57.4 C960.5,57.1 962.7,55.0 964.2,54.3 C965.7,53.6 968.1,53.7 968.4,53.1 C968.7,52.5 967.1,51.8 966.0,50.7 C964.9,49.6 963.1,47.9 961.8,46.5 C960.5,45.1 959.1,43.3 958.1,42.2 C957.1,41.1 955.0,40.4 955.7,39.8 C956.4,39.2 961.6,39.3 962.4,38.6 C963.2,37.9 961.8,36.6 960.5,35.6 C959.2,34.6 956.4,33.2 954.5,32.8 C952.6,32.4 950.3,32.9 949.0,33.1 C947.7,33.4 947.6,34.8 946.6,34.3 C945.6,33.8 943.7,31.5 943.0,30.1 C942.3,28.7 942.2,27.2 942.6,25.9 C943.0,24.6 944.9,23.7 945.4,22.2 C945.9,20.7 949.4,17.9 945.8,17.0 C942.2,16.1 927.6,16.3 924.0,17.0Z" fill="#ffffff" stroke="#4a40c8" stroke-opacity="0.72" stroke-width="1.0" stroke-linejoin="round"/>
<path d="M266.3,236.3 C266.8,234.5 267.7,233.1 268.8,231.9 C269.9,230.7 271.2,229.6 273.1,229.0 C275.0,228.4 278.0,228.1 280.0,228.1 C282.0,228.1 282.9,228.2 285.0,229.0 C287.1,229.8 289.6,231.8 292.5,233.1 C295.4,234.4 299.8,235.4 302.5,236.9 C305.2,238.4 306.7,240.1 308.8,241.9 C310.9,243.7 313.0,245.8 315.0,247.5 C317.0,249.2 319.0,250.2 320.6,251.9 C322.2,253.6 323.1,256.1 324.4,257.5 C325.6,258.9 326.8,259.7 328.1,260.3 C329.5,260.9 330.7,261.1 332.5,261.0 C334.3,260.9 336.9,260.0 338.8,259.8 C340.7,259.6 342.6,259.4 343.8,259.8 C345.0,260.2 345.6,261.2 346.0,262.5 C346.4,263.8 346.8,265.6 346.5,267.5 C346.2,269.4 345.3,271.6 344.4,273.8 C343.5,276.0 342.9,278.4 341.3,280.6 C339.7,282.8 336.6,285.1 335.0,286.9 C333.4,288.7 332.6,289.5 331.9,291.3 C331.2,293.1 330.8,295.2 330.6,297.5 C330.5,299.8 330.7,302.5 331.0,305.0 C331.3,307.5 331.4,308.5 332.5,312.5 C333.6,316.5 335.8,323.7 337.5,328.8 C339.2,333.9 341.7,339.8 342.5,343.1 C343.3,346.4 343.1,346.6 342.3,348.8 C341.5,351.0 338.4,354.0 337.5,356.3 C336.6,358.6 336.7,359.8 336.9,362.5 C337.1,365.2 339.5,370.9 338.8,372.5 C338.1,374.1 334.4,372.5 332.5,372.3 C330.6,372.1 329.6,371.2 327.5,371.5 C325.4,371.8 321.8,374.1 320.0,373.8 C318.2,373.6 317.5,371.2 316.5,370.0 C315.5,368.8 314.9,368.4 313.8,366.3 C312.7,364.2 311.7,361.5 310.0,357.5 C308.3,353.5 306.3,348.5 303.8,342.5 C301.3,336.5 297.4,326.6 295.0,321.3 C292.6,316.1 291.5,314.4 289.4,311.0 C287.3,307.6 284.8,304.5 282.5,301.0 C280.2,297.5 277.4,293.3 275.6,290.0 C273.8,286.7 273.2,284.6 271.9,281.3 C270.5,278.0 268.6,273.6 267.5,270.0 C266.4,266.4 265.4,262.9 265.0,260.0 C264.6,257.1 264.7,255.4 264.8,252.5 C264.9,249.6 265.4,245.2 265.6,242.5 C265.9,239.8 265.8,238.1 266.3,236.3Z" fill="#ffffff" stroke="#4a40c8" stroke-opacity="0.72" stroke-width="1.0" stroke-linejoin="round"/>
<g fill="none" stroke="#000" stroke-width="1.25" stroke-linejoin="round" stroke-linecap="round">
<path d="M12.5,21.0 C12.7,21.8 13.8,24.2 13.8,25.5 C13.8,26.8 12.6,27.6 12.5,29.0 C12.4,30.4 13.4,32.4 13.0,33.6 C12.6,34.8 11.5,35.5 10.0,36.0 C8.5,36.5 5.3,37.3 3.8,36.8 C2.3,36.3 1.8,33.5 1.2,33.0 C0.6,32.5 0.2,33.8 0.0,34.0"/>
<path d="M0.0,38.0 C1.2,38.3 5.8,39.2 7.5,40.0 C9.2,40.8 9.7,41.9 10.0,43.0 C10.3,44.1 9.2,45.5 9.4,46.8 C9.6,48.0 10.9,49.4 11.2,50.5 C11.5,51.6 10.1,53.0 11.2,53.6 C12.2,54.2 16.0,54.4 17.5,54.0 C19.0,53.6 19.2,51.4 20.0,51.0 C20.8,50.6 21.8,51.1 22.0,51.8 C22.2,52.5 20.7,54.4 21.2,55.0 C21.7,55.6 24.5,55.0 25.0,55.5 C25.5,56.0 23.6,57.6 24.4,58.0 C25.2,58.4 29.0,57.5 30.0,58.0 C31.0,58.5 31.1,60.3 30.6,61.0 C30.1,61.7 27.2,61.7 26.9,62.4 C26.6,63.1 29.3,64.4 28.8,65.0 C28.3,65.6 25.5,66.0 23.8,66.0 C22.1,66.0 20.5,65.0 18.8,65.0 C17.1,65.0 15.0,65.4 13.8,66.0 C12.7,66.6 12.0,67.4 11.9,68.6 C11.8,69.8 12.3,72.2 13.0,73.0 C13.7,73.8 15.0,73.8 16.0,73.5 C17.0,73.2 17.6,71.1 18.8,71.0 C20.0,70.9 21.0,72.9 23.0,73.0 C25.0,73.1 27.5,72.2 31.0,71.8 C34.5,71.4 39.6,70.8 43.8,70.5 C48.0,70.2 52.0,70.2 56.0,70.0 C60.0,69.8 66.7,69.1 67.5,69.5 C68.3,69.9 62.5,71.5 61.0,72.4 C59.5,73.3 60.0,74.5 58.8,75.0 C57.6,75.5 54.8,74.6 53.8,75.5 C52.8,76.4 52.0,79.2 52.5,80.5 C53.0,81.8 56.6,82.5 57.0,83.0 C57.4,83.5 55.8,83.8 55.0,83.6 C54.2,83.4 54.8,82.3 52.5,82.0 C50.2,81.7 44.6,81.6 41.0,81.8 C37.4,82.0 34.3,82.5 31.0,83.0 C27.7,83.5 23.2,84.4 21.0,85.0 C18.8,85.6 18.4,86.4 18.0,86.8 C17.6,87.2 17.8,87.0 18.8,87.4 C19.8,87.8 21.3,88.8 23.8,89.0 C26.3,89.2 31.8,89.5 33.8,88.6 C35.8,87.7 34.3,84.4 36.0,83.6 C37.7,82.8 41.0,83.5 43.8,84.0 C46.5,84.5 50.3,86.5 52.5,86.8 C54.7,87.1 56.6,85.2 57.0,86.0 C57.4,86.8 55.3,90.6 55.0,91.8 C54.7,93.0 54.2,93.5 55.0,93.0 C55.8,92.5 58.2,90.2 60.0,89.0 C61.8,87.8 65.4,86.7 66.0,85.5 C66.6,84.3 64.0,82.9 63.8,81.8 C63.6,80.7 64.0,79.0 65.0,79.0 C66.0,79.0 68.8,81.8 70.0,81.8 C71.2,81.8 71.7,79.5 72.5,79.0 C73.3,78.5 74.4,78.3 75.0,78.6 C75.6,78.9 74.8,80.5 76.0,81.0 C77.2,81.5 81.3,81.0 82.5,81.8 C83.7,82.6 82.2,85.1 83.0,86.0 C83.8,86.9 85.9,86.9 87.5,87.4 C89.1,87.9 91.2,88.2 92.5,89.0 C93.8,89.8 94.2,92.6 95.0,92.4 C95.8,92.2 96.7,89.1 97.5,88.0 C98.3,86.9 98.7,86.0 100.0,86.0 C101.3,86.0 104.3,87.2 105.6,88.0 C106.9,88.8 108.3,89.9 108.0,90.6 C107.7,91.3 104.5,91.3 103.8,92.0 C103.1,92.7 103.2,94.4 103.8,95.0 C104.4,95.6 106.8,94.3 107.5,95.6 C108.2,96.9 107.0,101.1 108.0,103.0 C109.0,104.9 111.8,105.7 113.8,107.0 C115.8,108.3 118.6,110.5 120.0,111.0 C121.4,111.5 121.2,109.8 122.0,110.0 C122.8,110.2 123.3,111.4 125.0,112.0 C126.7,112.6 130.8,113.0 132.0,113.8 C133.2,114.6 131.6,116.9 132.0,117.0 C132.4,117.1 133.1,114.4 134.4,114.4 C135.7,114.4 138.7,116.9 140.0,117.0 C141.3,117.1 140.8,115.8 142.5,115.0 C144.2,114.2 147.1,113.3 150.0,112.5 C152.9,111.7 157.9,110.8 160.0,110.0 C162.1,109.2 161.2,108.4 162.5,108.0 C163.8,107.6 165.4,107.2 167.5,107.5 C169.6,107.8 173.8,109.2 175.0,110.0 C176.2,110.8 174.0,112.1 174.4,112.0 C174.8,111.9 176.7,110.4 177.5,109.4 C178.3,108.4 179.4,106.9 179.4,106.0 C179.4,105.1 177.3,105.2 177.5,103.8 C177.7,102.4 179.7,99.2 180.6,97.5 C181.5,95.8 182.8,95.0 183.0,93.8 C183.2,92.5 182.1,91.7 182.0,90.0 C181.9,88.3 182.0,85.6 182.5,83.8 C183.0,82.0 183.9,80.5 185.0,79.4 C186.1,78.4 187.8,77.5 188.8,77.5 C189.8,77.5 189.1,79.1 191.0,79.4 C192.9,79.7 196.4,79.2 200.0,79.4 C203.6,79.6 209.0,80.2 212.5,80.6 C216.0,81.0 218.9,81.5 221.0,82.0 C223.1,82.5 223.8,83.3 225.0,83.8 C226.2,84.3 222.8,83.1 228.0,85.0 C233.2,86.9 249.7,91.2 256.0,95.0 C262.3,98.8 261.8,104.2 266.0,108.0 C270.2,111.8 276.0,115.8 281.0,118.0 C286.0,120.2 290.7,121.3 296.0,121.0 C301.3,120.7 306.3,117.0 313.0,116.0 C319.7,115.0 329.7,116.3 336.0,115.0 C342.3,113.7 347.7,108.7 351.0,108.0 C354.3,107.3 353.8,112.3 356.0,111.0 C358.2,109.7 360.7,103.7 364.0,100.0 C367.3,96.3 371.0,92.2 376.0,89.0 C381.0,85.8 389.0,81.5 394.0,81.0 C399.0,80.5 401.7,84.2 406.0,86.0 C410.3,87.8 416.4,90.4 420.0,91.9 C423.6,93.5 425.2,95.2 427.5,95.3 C429.8,95.4 431.7,92.9 433.8,92.5 C435.9,92.1 438.4,93.5 440.0,93.1 C441.6,92.7 443.2,91.0 443.1,90.0 C443.0,89.0 439.4,87.8 439.4,86.9 C439.4,86.0 441.1,85.4 443.1,84.8 C445.1,84.2 448.9,84.3 451.3,83.1 C453.7,81.9 455.7,78.8 457.5,77.5 C459.3,76.2 460.3,75.5 461.9,75.6 C463.5,75.7 465.4,76.8 466.9,78.1 C468.3,79.3 469.8,81.1 470.6,83.1 C471.4,85.1 471.8,88.3 471.5,90.0 C471.2,91.7 470.3,92.0 468.8,93.1 C467.3,94.1 464.7,94.8 462.5,96.3 C460.3,97.8 457.7,100.1 455.6,101.9 C453.5,103.7 450.3,105.5 450.0,107.3 C449.7,109.1 452.4,110.6 453.8,112.5 C455.2,114.4 457.1,117.1 458.1,118.8 C459.1,120.5 460.0,121.0 459.8,122.5 C459.6,124.0 458.3,126.0 456.9,127.5 C455.5,129.0 452.1,130.0 451.3,131.5 C450.5,133.0 452.6,134.7 452.3,136.3 C452.0,137.9 450.3,139.9 449.4,141.3 C448.5,142.8 446.9,143.9 446.9,145.0 C446.9,146.1 448.0,147.1 449.4,148.1 C450.8,149.1 453.8,149.3 455.0,151.0 C456.2,152.7 456.4,154.8 456.5,158.0 C456.6,161.2 455.9,166.3 455.5,170.0 C455.1,173.7 454.0,177.1 454.4,180.0 C454.8,182.9 457.2,185.4 458.1,187.5 C459.0,189.6 459.6,191.0 460.0,192.5 C460.4,194.0 461.1,195.1 460.6,196.3 C460.1,197.6 458.4,199.0 456.9,200.0 C455.3,201.0 452.9,201.3 451.3,202.5 C449.7,203.7 448.9,205.7 447.5,206.9 C446.1,208.2 444.1,208.4 443.1,210.0 C442.1,211.6 441.4,214.0 441.3,216.3 C441.2,218.6 442.9,221.4 442.5,223.8 C442.1,226.2 440.2,229.5 438.8,230.6 C437.4,231.7 434.5,230.1 433.8,230.6 C433.1,231.1 434.7,232.2 434.4,233.8 C434.1,235.4 432.9,237.3 431.9,240.0 C430.8,242.7 429.6,247.6 428.1,250.0 C426.6,252.4 424.5,252.3 423.1,254.4 C421.8,256.5 420.6,260.5 420.0,262.5 C419.4,264.5 420.1,264.9 419.4,266.3 C418.7,267.7 416.8,268.1 415.6,271.0 C414.4,273.9 413.4,281.5 412.0,284.0 C410.6,286.5 408.3,282.8 407.0,286.0 C405.7,289.2 405.3,297.2 404.0,303.0 C402.7,308.8 401.0,315.5 399.0,321.0 C397.0,326.5 394.3,331.8 392.0,336.0 C389.7,340.2 387.4,343.1 385.0,346.3 C382.6,349.5 380.2,352.2 377.5,355.0 C374.8,357.8 371.7,361.0 368.8,363.1 C365.9,365.2 362.9,366.2 360.0,367.5 C357.1,368.8 354.6,369.7 351.3,370.6 C348.0,371.5 342.9,372.5 340.0,372.8 C337.1,373.1 335.9,373.0 333.8,372.5 C331.7,372.0 329.8,370.6 327.5,369.8 C325.2,369.0 322.5,368.2 320.0,367.8 C317.5,367.4 315.6,366.8 312.5,367.5 C309.4,368.2 304.8,370.5 301.3,371.9 C297.8,373.2 294.2,375.1 291.3,375.6 C288.4,376.1 286.7,376.6 283.8,375.0 C280.9,373.4 276.1,368.1 273.8,366.3 C271.5,364.5 271.9,365.0 270.0,364.4 C268.1,363.8 264.7,363.6 262.4,362.7 C260.1,361.8 257.4,360.4 256.0,358.8 C254.6,357.2 254.8,354.5 253.8,353.3 C252.8,352.1 251.7,351.4 250.0,351.5 C248.3,351.6 246.5,353.3 243.6,354.0 C240.7,354.7 236.1,355.9 232.7,355.7 C229.3,355.4 227.0,353.8 223.3,352.5 C219.7,351.2 214.5,348.5 210.8,348.0 C207.2,347.5 204.5,348.6 201.4,349.4 C198.3,350.1 196.2,351.6 192.0,352.5 C187.8,353.4 179.3,354.8 176.0,355.0 C172.7,355.2 172.5,353.8 172.0,354.0 C171.5,354.2 173.7,354.5 173.0,356.0 C172.3,357.5 170.2,361.6 168.0,363.0 C165.8,364.4 161.9,364.2 160.0,364.1 C158.1,364.0 158.6,361.7 156.4,362.5 C154.2,363.3 150.4,366.8 147.0,369.1 C143.6,371.4 139.8,373.9 136.1,376.1 C132.4,378.3 129.0,380.5 125.1,382.4 C121.2,384.3 116.2,386.7 112.6,387.6 C108.9,388.5 106.6,388.9 103.2,387.9 C99.8,386.9 96.0,383.3 92.3,381.6 C88.6,379.9 84.7,378.9 81.3,377.7 C77.9,376.5 74.2,374.9 71.9,374.6 C69.6,374.3 69.4,376.0 67.3,376.1 C65.2,376.2 62.9,375.4 59.4,375.0 C55.9,374.6 48.7,375.1 46.1,373.8 C43.5,372.5 45.5,367.8 43.8,367.1 C42.1,366.4 38.4,369.1 36.0,369.4 C33.6,369.7 32.3,369.7 29.7,369.1 C27.1,368.5 22.5,367.6 20.3,366.0 C18.1,364.4 18.0,360.4 16.4,359.4 C14.8,358.3 13.6,360.0 10.9,359.7 C8.2,359.4 1.8,357.8 0.0,357.4"/>
<path d="M283.0,432.0 C282.6,432.3 281.4,432.7 280.4,434.0 C279.4,435.3 277.9,438.2 277.0,440.0 C276.1,441.8 275.3,443.2 274.8,445.0 C274.3,446.8 273.6,449.3 273.8,451.0 C274.0,452.7 275.1,453.9 276.0,455.0 C276.9,456.1 277.3,456.3 279.0,457.5 C280.7,458.7 284.3,459.8 286.0,462.0 C287.7,464.2 288.7,467.7 289.0,471.0 C289.3,474.3 287.5,478.9 288.0,482.0 C288.5,485.1 290.5,487.7 292.0,489.5 C293.5,491.3 295.7,490.8 297.0,493.0 C298.3,495.2 298.5,500.7 300.0,503.0 C301.5,505.3 303.8,504.5 306.0,507.0 C308.2,509.5 310.3,514.2 313.5,518.0 C316.7,521.8 322.1,527.5 325.0,530.0 C327.9,532.5 329.2,531.4 331.0,533.0 C332.8,534.6 335.0,537.8 336.0,539.5 C337.0,541.2 337.5,542.8 337.0,543.0 C336.5,543.2 333.8,540.7 333.0,541.0 C332.2,541.3 332.2,543.8 332.5,545.0 C332.8,546.2 334.6,546.8 335.0,548.0 C335.4,549.2 333.8,549.4 335.0,552.0 C336.2,554.6 340.0,560.3 342.5,563.5 C345.0,566.7 348.3,568.1 350.0,571.0 C351.7,573.9 351.2,578.1 352.5,581.0 C353.8,583.9 356.9,586.4 357.5,588.5 C358.1,590.6 356.4,591.6 356.0,593.5 C355.6,595.4 354.5,598.6 355.0,600.0 C355.5,601.4 356.7,598.5 359.0,602.0 C361.3,605.5 365.2,614.5 369.0,621.0 C372.8,627.5 377.6,634.8 381.5,641.0 C385.4,647.2 388.8,651.8 392.5,658.5 C396.2,665.2 400.8,675.2 404.0,681.5 C407.2,687.8 409.4,692.3 411.5,696.5 C413.6,700.7 415.4,703.9 416.5,706.5 C417.6,709.1 417.8,711.1 418.0,712.0"/>
<path d="M283.0,432.0 C283.3,431.9 284.4,430.8 285.0,431.5 C285.6,432.2 285.8,434.4 286.5,436.0 C287.2,437.6 288.2,439.3 289.0,441.0 C289.8,442.7 290.3,443.3 291.0,446.0 C291.7,448.7 292.0,454.5 293.0,457.0 C294.0,459.5 295.7,459.0 297.0,461.0 C298.3,463.0 298.8,466.5 301.0,469.0 C303.2,471.5 307.5,473.8 310.0,476.0 C312.5,478.2 314.8,479.3 316.0,482.0 C317.2,484.7 316.6,488.7 317.0,492.0 C317.4,495.3 317.0,499.1 318.5,502.0 C320.0,504.9 323.1,507.0 326.0,509.5 C328.9,512.0 333.1,514.1 336.0,517.0 C338.9,519.9 340.8,524.0 343.5,527.0 C346.2,530.0 348.9,532.4 352.0,535.0 C355.1,537.6 359.0,541.1 362.0,542.6 C365.0,544.1 368.5,543.4 370.0,544.0 C371.5,544.6 370.5,546.7 371.0,546.0 C371.5,545.3 371.5,542.2 373.0,540.0 C374.5,537.8 378.7,535.6 380.0,533.0 C381.3,530.4 381.0,527.3 381.0,524.5 C381.0,521.7 379.8,518.8 380.0,516.0 C380.2,513.2 381.3,509.7 382.0,508.0 C382.7,506.3 382.7,508.2 384.0,506.0 C385.3,503.8 388.5,498.5 390.0,494.5 C391.5,490.5 392.3,485.3 393.0,482.0 C393.7,478.7 393.4,477.2 394.0,474.5 C394.6,471.8 395.0,468.9 396.5,466.0 C398.0,463.1 401.2,459.8 403.0,457.0 C404.8,454.2 406.3,450.3 407.0,449.0"/>
<path d="M407.0,449.0 C407.3,449.7 408.8,451.7 409.0,453.0 C409.2,454.3 408.4,454.8 408.0,457.0 C407.6,459.2 407.3,462.2 406.5,466.0 C405.7,469.8 404.1,475.2 403.0,479.5 C401.9,483.8 400.8,488.4 400.0,492.0 C399.2,495.6 398.3,498.1 398.0,501.0 C397.7,503.9 398.8,506.4 398.0,509.5 C397.2,512.6 394.7,516.8 393.0,519.5 C391.3,522.2 388.6,524.1 388.0,526.0 C387.4,527.9 388.8,531.0 389.6,531.0 C390.4,531.0 391.3,526.5 393.0,526.0 C394.7,525.5 396.9,527.8 400.0,528.0 C403.1,528.2 408.2,526.7 411.5,527.0 C414.8,527.3 418.8,529.2 420.0,530.0 C421.2,530.8 418.2,530.4 419.0,532.0 C419.8,533.6 422.9,536.8 425.0,539.5 C427.1,542.2 429.6,545.2 431.5,548.0 C433.4,550.8 433.3,552.0 436.5,556.0 C439.7,560.0 445.8,566.2 450.5,572.0 C455.2,577.8 460.1,584.9 464.5,591.0 C468.9,597.1 474.1,603.7 477.0,608.5 C479.9,613.3 480.5,616.6 482.1,620.0 C483.7,623.4 485.7,626.7 486.8,628.6 C487.9,630.5 487.7,630.7 488.8,631.3 C489.9,631.9 492.2,631.6 493.5,632.1 C494.8,632.6 496.0,633.3 496.6,634.1 C497.2,634.9 497.7,635.7 497.4,636.8 C497.1,637.9 495.0,639.6 494.6,640.7 C494.2,641.8 494.5,642.4 495.0,643.5 C495.5,644.6 496.4,646.5 497.4,647.4 C498.4,648.3 500.1,649.1 500.9,649.1 C501.7,649.1 501.5,647.2 502.1,647.4 C502.7,647.6 503.7,649.3 504.4,650.1 C505.1,650.9 505.6,651.5 506.4,652.1 C507.2,652.7 508.3,652.7 509.1,653.6 C509.9,654.5 510.4,656.2 511.0,657.5 C511.6,658.8 512.3,660.5 513.0,661.4 C513.7,662.3 514.8,662.2 515.3,663.0 C515.8,663.8 515.7,665.0 516.1,666.1 C516.5,667.2 516.8,668.3 517.7,669.6 C518.6,670.9 520.4,672.6 521.6,674.0 C522.8,675.4 524.0,675.3 524.7,678.0 C525.4,680.7 526.9,687.3 526.0,690.0 C525.1,692.7 519.8,692.1 519.5,694.0 C519.2,695.9 522.4,698.5 524.5,701.5 C526.6,704.5 530.8,710.2 532.0,712.0"/>
<path d="M490.7,642.3 C490.4,642.8 489.2,643.8 488.8,645.0 C488.4,646.2 488.1,648.4 488.4,649.3 C488.7,650.2 490.5,650.2 490.5,650.3 C490.5,650.4 489.0,649.5 488.2,650.0 C487.4,650.5 485.7,652.2 485.6,653.2 C485.5,654.2 486.3,655.3 487.6,656.0 C488.9,656.7 491.6,657.0 493.5,657.5 C495.4,658.0 497.5,658.1 498.9,659.1 C500.3,660.1 500.9,662.0 502.1,663.4 C503.4,664.8 505.3,667.0 506.4,667.3 C507.5,667.6 508.1,666.1 508.7,665.3 C509.3,664.5 509.2,662.6 509.9,662.6 C510.5,662.6 511.8,665.0 512.6,665.3 C513.5,665.6 514.9,665.1 515.0,664.5 C515.1,663.9 513.3,661.9 513.0,661.4"/>
<path d="M503.0,658.5 L504.5,657.2"/>
<path d="M507.0,656.0 L508.0,658.5"/>
<path d="M341.7,171.8 C342.1,172.4 343.2,175.0 344.3,175.2 C345.4,175.4 347.0,174.2 348.3,173.2 C349.6,172.2 351.4,169.6 352.3,169.2 C353.2,168.8 354.0,169.6 353.6,170.5 C353.2,171.4 349.9,173.5 349.7,174.5 C349.5,175.5 351.9,176.3 352.3,176.7"/>
<path d="M951.0,46.0 C951.3,46.1 952.3,46.2 953.0,46.5 C953.7,46.8 955.0,47.3 955.0,47.5 C955.0,47.7 953.7,48.0 953.0,47.8 C952.3,47.5 951.3,46.3 951.0,46.0"/>
<path d="M946.8,50.3 C947.0,50.4 947.5,50.4 948.0,51.0 C948.5,51.6 949.5,53.9 949.5,54.2 C949.5,54.5 948.5,53.6 948.0,53.0 C947.5,52.4 947.0,50.8 946.8,50.3"/>
<path d="M269.7,169.8 C270.2,169.4 273.0,172.3 274.6,172.5 C276.2,172.7 277.9,172.3 279.3,171.2 C280.7,170.1 281.4,167.0 283.2,165.9 C285.0,164.8 287.4,164.4 289.9,164.5 C292.3,164.6 295.9,166.4 297.9,166.5 C299.9,166.6 300.8,165.8 301.8,164.8 C302.8,163.8 303.5,162.2 303.8,160.5 C304.1,158.8 303.3,155.7 303.6,154.6 C303.9,153.5 304.3,154.0 305.8,154.2 C307.3,154.4 309.6,155.4 312.5,155.9 C315.4,156.4 319.6,157.0 323.1,157.2 C326.6,157.4 330.6,157.5 333.7,157.2 C336.8,156.9 339.3,155.9 341.7,155.2 C344.1,154.5 345.6,153.6 348.3,152.8 C351.0,152.0 354.3,151.8 357.6,150.6 C360.9,149.4 364.6,147.1 368.2,145.7 C371.8,144.3 375.6,143.3 378.9,142.2 C382.2,141.1 386.8,139.2 388.2,139.0 C389.6,138.8 389.1,140.0 387.5,141.3 C385.9,142.6 381.7,145.1 378.9,146.6 C376.1,148.1 373.3,149.4 370.9,150.6 C368.5,151.8 366.0,152.7 364.3,153.9 C362.6,155.1 362.2,157.1 360.9,157.9 C359.6,158.7 357.5,157.9 356.3,158.6 C355.1,159.3 354.0,160.6 353.6,161.9 C353.2,163.2 353.0,164.9 353.9,166.5 C354.8,168.1 357.4,169.6 358.9,171.2 C360.4,172.8 363.1,175.5 362.9,176.2 C362.7,176.9 359.4,175.2 357.6,175.4 C355.8,175.6 354.1,177.1 352.3,177.1 C350.5,177.1 348.7,175.4 347.0,175.2 C345.3,175.0 343.5,175.2 342.3,175.8 C341.1,176.5 340.4,178.0 339.7,179.1 C339.0,180.2 339.6,181.5 338.4,182.5 C337.2,183.5 334.3,184.3 332.4,185.1 C330.5,185.9 329.3,186.3 327.1,187.1 C324.9,187.9 321.5,189.4 319.1,189.8 C316.7,190.2 314.3,189.4 312.5,189.8 C310.7,190.2 309.3,191.4 308.5,192.4 C307.7,193.4 308.5,195.5 307.8,196.1 C307.1,196.7 305.3,196.8 304.5,196.1 C303.7,195.4 304.1,192.9 303.2,191.8 C302.3,190.8 300.8,189.7 299.2,189.8 C297.6,189.9 295.7,191.9 293.9,192.2 C292.1,192.5 290.6,192.3 288.6,191.8 C286.6,191.3 283.7,189.8 281.9,189.1 C280.1,188.4 279.0,188.8 277.9,187.8 C276.8,186.8 276.2,184.4 275.3,183.1 C274.4,181.8 273.3,181.1 272.6,179.8 C271.9,178.5 271.8,176.9 271.3,175.2 C270.8,173.5 269.1,170.2 269.7,169.8Z"/>
<path d="M193.0,20.0 C192.2,21.3 196.3,27.6 198.0,27.6 C199.7,27.6 203.8,21.3 203.0,20.0 C202.2,18.7 193.8,18.7 193.0,20.0Z"/>
<path d="M222.0,23.8 C222.2,22.7 225.1,22.4 227.0,22.6 C228.9,22.8 231.1,22.7 233.4,25.0 C235.7,27.3 240.4,34.1 241.0,36.4 C241.6,38.7 238.7,38.4 237.0,39.0 C235.3,39.6 232.2,40.7 231.0,40.0 C229.8,39.3 230.5,36.8 229.7,35.0 C228.9,33.2 227.3,30.9 226.0,29.0 C224.7,27.1 221.8,24.9 222.0,23.8Z"/>
<path d="M35.0,114.0 C34.3,115.9 36.2,119.7 37.0,122.0 C37.8,124.3 38.8,127.5 40.0,128.0 C41.2,128.5 42.3,126.2 44.0,125.0 C45.7,123.8 47.8,122.8 50.0,120.5 C52.2,118.2 54.8,114.2 57.0,111.0 C59.2,107.8 62.1,103.3 63.0,101.5 C63.9,99.7 64.0,100.0 62.5,100.0 C61.0,100.0 56.6,100.6 54.0,101.6 C51.4,102.6 49.2,104.5 47.0,106.0 C44.8,107.5 43.0,109.2 41.0,110.5 C39.0,111.8 35.7,112.1 35.0,114.0Z"/>
<path d="M0.0,82.4 C0.5,81.6 2.9,79.5 5.0,78.6 C7.1,77.7 10.4,77.1 12.5,77.0 C14.6,76.9 16.9,77.5 17.5,78.0 C18.1,78.5 17.4,79.3 16.0,79.9 C14.6,80.5 10.5,81.1 8.8,81.8 C7.1,82.5 6.8,83.7 5.6,84.0 C4.4,84.3 2.8,83.9 1.9,83.6 C1.0,83.3 -0.5,83.2 0.0,82.4Z"/>
<path d="M6.0,92.4 C6.5,92.0 9.2,91.6 10.0,91.8 C10.8,92.0 11.1,93.1 10.6,93.6 C10.1,94.0 7.7,94.7 6.9,94.5 C6.1,94.3 5.5,92.9 6.0,92.4Z"/>
<path d="M39.0,92.4 C39.5,91.8 43.0,90.0 43.8,90.5 C44.6,91.0 44.5,94.9 44.0,95.5 C43.5,96.1 41.4,94.5 40.6,94.0 C39.8,93.5 38.5,93.0 39.0,92.4Z"/>
<path d="M15.0,100.0 C15.5,99.5 17.6,98.7 18.8,99.0 C20.0,99.3 22.0,101.0 22.0,101.8 C22.0,102.6 19.9,103.6 18.8,103.6 C17.7,103.6 16.2,102.4 15.6,101.8 C15.0,101.2 14.5,100.5 15.0,100.0Z"/>
<path d="M49.0,93.0 C49.6,92.7 53.0,92.2 53.8,92.4 C54.6,92.6 54.4,93.7 53.8,94.0 C53.2,94.3 50.8,94.7 50.0,94.5 C49.2,94.3 48.4,93.3 49.0,93.0Z"/>
<path d="M26.0,110.0 C26.5,109.6 29.2,109.2 30.0,109.5 C30.8,109.8 31.5,111.1 31.0,111.5 C30.5,111.9 27.8,112.2 27.0,112.0 C26.2,111.8 25.5,110.4 26.0,110.0Z"/>
<path d="M8.0,132.0 C9.0,131.2 10.7,131.7 11.0,133.0 C11.3,134.3 9.8,137.7 10.0,140.0 C10.2,142.3 12.3,145.0 12.0,147.0 C11.7,149.0 9.2,151.5 8.0,152.0 C6.8,152.5 5.3,151.2 5.0,150.0 C4.7,148.8 6.3,146.2 6.0,145.0 C5.7,143.8 3.2,144.2 3.0,143.0 C2.8,141.8 4.2,139.8 5.0,138.0 C5.8,136.2 7.0,132.8 8.0,132.0Z"/>
<path d="M576.0,41.0 C576.0,39.4 578.3,38.3 580.0,38.0 C581.7,37.7 585.5,37.8 586.0,39.0 C586.5,40.2 582.5,44.2 583.0,45.0 C583.5,45.8 586.6,44.8 588.8,43.6 C591.0,42.4 594.1,39.1 596.0,38.0 C597.9,36.9 599.8,38.0 600.0,36.8 C600.2,35.6 596.9,31.0 597.0,31.0 C597.1,31.0 599.5,35.7 600.6,36.8 C601.7,37.9 602.6,37.9 603.8,37.4 C605.0,36.9 607.2,35.1 608.0,34.0 C608.8,32.9 607.8,31.7 608.8,30.5 C609.8,29.3 612.9,26.8 613.8,26.8 C614.7,26.8 614.9,28.8 614.4,30.5 C613.9,32.2 612.1,35.4 611.0,36.8 C609.9,38.2 608.9,38.4 607.5,39.0 C606.1,39.6 604.4,40.0 602.5,40.5 C600.6,41.0 597.7,40.5 596.0,41.8 C594.3,43.0 593.5,46.6 592.5,48.0 C591.5,49.4 591.1,49.9 590.0,50.0 C588.9,50.1 587.7,49.0 586.0,48.6 C584.3,48.2 581.7,48.7 580.0,47.4 C578.3,46.1 576.0,42.6 576.0,41.0Z"/>
<path d="M573.5,106.7 C573.0,106.9 572.2,109.2 571.0,110.4 C569.8,111.7 567.1,112.5 566.0,114.2 C564.9,115.9 564.0,118.6 564.2,120.5 C564.4,122.4 565.7,124.0 567.2,125.5 C568.8,127.0 571.6,128.1 573.5,129.3 C575.4,130.6 577.2,132.2 578.5,133.0 C579.8,133.8 580.2,134.5 581.0,134.3 C581.8,134.1 581.8,132.4 583.5,131.8 C585.2,131.2 589.5,131.1 591.0,130.5 C592.5,129.9 593.1,128.8 592.3,128.0 C591.5,127.2 588.1,126.1 586.0,125.5 C583.9,124.9 581.9,125.0 579.8,124.2 C577.7,123.4 575.2,121.8 573.5,120.5 C571.8,119.2 570.1,118.2 569.7,116.7 C569.3,115.2 570.2,113.0 571.0,111.7 C571.8,110.5 573.8,110.0 574.2,109.2 C574.6,108.4 574.0,106.5 573.5,106.7Z"/>
<path d="M823.1,208.8 C823.6,207.8 824.4,207.2 825.0,207.5 C825.6,207.8 826.4,209.3 826.9,210.6 C827.4,211.8 827.0,213.2 828.1,215.0 C829.2,216.8 831.8,219.7 833.8,221.3 C835.8,222.9 838.5,223.3 840.0,224.4 C841.5,225.5 842.2,226.9 843.1,228.1 C844.0,229.2 845.1,229.9 845.3,231.3 C845.4,232.7 844.5,234.8 844.0,236.3 C843.5,237.9 843.4,239.9 842.5,240.6 C841.6,241.3 840.5,240.5 838.8,240.3 C837.1,240.1 834.1,240.0 832.5,239.4 C830.9,238.8 830.6,238.2 829.4,236.9 C828.1,235.6 826.0,232.9 825.0,231.3 C824.0,229.7 823.5,229.2 823.1,227.5 C822.7,225.8 823.0,223.6 822.8,221.3 C822.6,219.0 821.8,215.9 821.9,213.8 C822.0,211.7 822.6,209.9 823.1,208.8Z"/>
<path d="M834.4,260.0 C834.4,259.3 836.9,258.9 837.5,258.1 C838.1,257.3 837.6,255.6 838.1,255.0 C838.6,254.4 839.9,254.2 840.6,254.8 C841.3,255.4 841.5,258.0 842.5,258.8 C843.5,259.6 845.8,259.0 846.9,259.4 C848.0,259.8 849.0,260.5 849.4,261.3 C849.8,262.1 849.5,263.5 849.0,264.4 C848.5,265.3 847.4,266.0 846.3,266.5 C845.2,267.0 843.5,267.8 842.5,267.3 C841.5,266.9 841.4,264.6 840.6,263.8 C839.8,263.0 838.5,263.1 837.5,262.5 C836.5,261.9 834.4,260.7 834.4,260.0Z"/>
<path d="M846.3,271.5 C846.4,271.5 845.8,273.6 846.5,274.4 C847.2,275.2 849.2,274.4 850.6,276.3 C852.0,278.2 853.1,283.4 855.0,286.0 C856.9,288.6 860.5,290.2 862.0,292.0 C863.5,293.8 864.5,295.5 864.0,297.0 C863.5,298.5 860.5,300.7 859.0,301.0 C857.5,301.3 856.7,299.7 855.0,299.0 C853.3,298.3 850.8,297.8 849.0,297.0 C847.2,296.2 845.3,295.5 844.0,294.0 C842.7,292.5 841.7,289.6 841.0,288.0 C840.3,286.4 839.8,285.5 840.0,284.4 C840.2,283.3 841.8,282.6 842.5,281.3 C843.2,280.0 843.8,277.4 844.4,276.3 C845.0,275.2 845.7,275.3 846.0,274.5 C846.3,273.7 846.2,271.5 846.3,271.5Z"/>
<path d="M436.3,285.0 C436.3,283.9 437.0,283.2 437.8,282.8 C438.6,282.4 440.1,282.0 440.9,282.3 C441.7,282.6 442.6,283.3 442.8,284.4 C443.0,285.5 442.6,287.6 442.1,288.8 C441.6,290.0 440.3,291.2 439.6,291.3 C438.9,291.4 438.4,290.4 437.8,289.4 C437.2,288.3 436.3,286.1 436.3,285.0Z"/>
<path d="M432.8,343.0 C433.6,341.9 434.8,341.1 435.9,340.6 C437.0,340.2 438.9,339.2 439.4,340.3 C439.9,341.4 439.1,345.1 439.0,347.5 C438.9,349.9 439.2,352.8 439.0,355.0 C438.8,357.2 438.2,359.3 437.8,360.6 C437.4,361.9 436.9,363.0 436.5,363.0 C436.1,363.0 435.8,360.7 435.3,360.6 C434.8,360.5 434.1,362.2 433.4,362.5 C432.7,362.8 431.4,363.8 430.9,362.5 C430.4,361.2 430.2,357.5 430.3,355.0 C430.4,352.5 430.9,349.5 431.3,347.5 C431.7,345.5 432.0,344.1 432.8,343.0Z"/>
<path d="M436.5,341.0 C436.6,341.0 434.0,346.8 433.4,350.0 C432.8,353.2 432.9,360.0 432.8,360.0 C432.7,360.0 432.2,353.2 432.8,350.0 C433.4,346.8 436.4,341.0 436.5,341.0Z"/>
<path d="M924.0,17.0 C920.4,17.7 924.1,19.3 924.2,21.0 C924.3,22.7 923.6,25.6 924.8,27.1 C926.0,28.6 929.9,28.6 931.5,30.1 C933.1,31.6 933.9,34.2 934.5,36.2 C935.1,38.2 934.6,40.0 935.1,42.2 C935.6,44.4 937.2,47.5 937.5,49.5 C937.8,51.5 936.5,52.5 936.9,54.3 C937.3,56.1 938.6,58.5 940.0,60.4 C941.4,62.3 944.0,64.9 945.4,65.5 C946.8,66.1 947.3,64.2 948.4,64.0 C949.5,63.9 951.3,65.4 952.1,64.6 C952.9,63.8 952.5,60.7 953.3,59.2 C954.1,57.7 955.9,56.1 956.9,55.8 C957.9,55.5 958.1,57.6 959.3,57.4 C960.5,57.1 962.7,55.0 964.2,54.3 C965.7,53.6 968.1,53.7 968.4,53.1 C968.7,52.5 967.1,51.8 966.0,50.7 C964.9,49.6 963.1,47.9 961.8,46.5 C960.5,45.1 959.1,43.3 958.1,42.2 C957.1,41.1 955.0,40.4 955.7,39.8 C956.4,39.2 961.6,39.3 962.4,38.6 C963.2,37.9 961.8,36.6 960.5,35.6 C959.2,34.6 956.4,33.2 954.5,32.8 C952.6,32.4 950.3,32.9 949.0,33.1 C947.7,33.4 947.6,34.8 946.6,34.3 C945.6,33.8 943.7,31.5 943.0,30.1 C942.3,28.7 942.2,27.2 942.6,25.9 C943.0,24.6 944.9,23.7 945.4,22.2 C945.9,20.7 949.4,17.9 945.8,17.0 C942.2,16.1 927.6,16.3 924.0,17.0Z"/>
<path d="M247.5,352.6 C248.2,351.8 252.1,351.3 253.8,352.6 C255.5,353.9 255.0,358.3 257.7,360.4 C260.4,362.5 267.8,363.4 270.2,365.0 C272.6,366.6 272.1,368.4 271.8,369.8 C271.5,371.2 270.4,372.7 268.6,373.7 C266.8,374.7 262.6,376.4 260.8,376.0 C259.0,375.6 258.7,372.6 257.7,371.3 C256.7,370.0 256.7,369.2 254.6,368.2 C252.5,367.1 246.6,366.3 245.2,365.0 C243.8,363.7 245.2,361.7 246.0,360.4 C246.8,359.1 249.7,358.6 249.9,357.3 C250.2,356.0 246.8,353.4 247.5,352.6Z"/>
<path d="M291.3,376.3 C291.3,376.6 298.6,374.5 301.3,373.8 C304.0,373.1 305.4,372.3 307.5,371.9 C309.6,371.5 312.7,370.7 313.8,371.3 C314.9,371.9 313.6,374.9 314.4,375.6 C315.2,376.3 318.2,376.0 318.8,375.6 C319.4,375.2 317.7,373.3 318.1,373.1 C318.5,372.9 319.7,374.5 321.3,374.4 C322.9,374.3 327.7,373.4 327.5,372.3 C327.3,371.2 322.5,368.8 320.0,368.0 C317.5,367.2 315.6,367.0 312.5,367.7 C309.4,368.4 304.8,370.6 301.3,372.0 C297.8,373.4 291.3,376.0 291.3,376.3Z"/>
<path d="M192.0,357.2 C192.0,356.9 198.8,356.6 201.4,355.7 C204.0,354.8 205.9,352.3 207.6,351.8 C209.3,351.3 211.1,352.2 211.5,352.6 C211.9,353.0 210.9,354.3 210.0,354.4 C209.1,354.5 207.4,352.8 206.0,353.3 C204.6,353.8 203.7,356.6 201.4,357.2 C199.1,357.8 192.0,357.4 192.0,357.2Z"/>
<path d="M271.6,412.3 C271.5,411.2 272.2,409.7 272.9,409.0 C273.6,408.3 275.1,408.0 276.0,408.3 C276.9,408.6 277.9,409.9 278.5,411.0 C279.1,412.1 279.1,413.9 279.8,414.8 C280.5,415.7 282.0,416.0 282.9,416.6 C283.8,417.2 285.1,417.8 285.4,418.5 C285.7,419.2 285.2,420.8 284.8,421.0 C284.4,421.2 283.6,420.4 282.9,419.8 C282.2,419.2 281.3,417.9 280.4,417.3 C279.5,416.7 278.4,416.3 277.3,416.0 C276.2,415.7 274.4,416.0 273.5,415.4 C272.6,414.8 271.7,413.4 271.6,412.3Z"/>
<path d="M354.0,557.0 C354.0,556.2 356.8,555.7 358.0,556.0 C359.2,556.3 361.0,558.2 361.0,559.0 C361.0,559.8 359.2,561.3 358.0,561.0 C356.8,560.7 354.0,557.8 354.0,557.0Z"/>
<path d="M384.0,532.0 C384.6,531.3 387.1,531.3 388.0,532.0 C388.9,532.7 389.8,535.1 389.5,536.0 C389.2,536.9 386.8,537.5 386.0,537.5 C385.2,537.5 384.8,536.9 384.5,536.0 C384.2,535.1 383.4,532.7 384.0,532.0Z"/>
<path d="M392.5,535.0 C392.8,534.5 394.5,534.2 395.0,534.5 C395.5,534.8 395.8,536.5 395.5,537.0 C395.2,537.5 393.5,537.8 393.0,537.5 C392.5,537.2 392.2,535.5 392.5,535.0Z"/>
<path d="M1007.0,385.0 C1007.3,383.5 1010.0,382.3 1012.0,382.0 C1014.0,381.7 1017.0,382.3 1019.0,383.0 C1021.0,383.7 1023.2,384.7 1024.0,386.0 C1024.8,387.3 1025.2,389.8 1024.0,391.0 C1022.8,392.2 1019.3,393.0 1017.0,393.0 C1014.7,393.0 1011.7,392.3 1010.0,391.0 C1008.3,389.7 1006.7,386.5 1007.0,385.0Z"/>
</g>
<g fill="none" stroke="#000" stroke-width="1.15" stroke-linejoin="round">
<path d="M457.5,127.3 L460.0,128.1 L461.3,130.0 L468.1,132.5 L470.0,127.5 L475.0,124.4 L478.8,123.8 L479.8,111.9 L483.8,112.5 L490.0,111.5 L495.0,110.6 L494.4,107.5 L490.6,105.6 L488.1,100.0 L490.0,92.5 L493.8,81.0 L501.3,83.1 L510.0,85.0 L513.1,87.5 L514.4,90.6 L520.0,90.0 L526.3,89.8 L535.0,90.6 L542.5,86.9 L548.0,85.6 L556.0,83.0 L567.5,78.6 L573.8,76.5 L581.0,77.8 L588.8,80.5 L596.0,86.0 L602.5,87.8 L617.5,87.4 L630.0,89.0 L653.0,85.0 L673.0,79.0 L688.0,72.0 L705.0,67.0 L728.0,68.0 L750.0,66.0 L768.0,63.0 L778.0,56.0 L786.0,59.0 L787.0,67.0 L796.0,65.0 L806.0,53.0 L812.0,55.0 L823.0,53.0 L843.0,60.0 L861.0,61.0 L871.0,56.0 L881.0,59.0 L880.0,67.0 L885.0,73.0 L893.0,67.0 L899.0,63.6 L909.0,63.4"/>
<path d="M787.0,67.0 L768.0,84.0 L757.0,94.0 L737.0,97.0 L730.0,108.0 L730.0,120.0 L735.0,135.0 L732.0,148.0 L727.0,163.0 L727.0,183.0 L728.0,184.0 L715.0,205.0 L700.0,208.0 L604.0,258.0 L512.0,306.0"/>
<path d="M881.0,21.0 L883.0,26.0 L896.0,33.0 L901.0,38.0 L899.0,49.0 L906.0,53.1 L911.5,57.4 L909.7,60.4 L909.0,63.4 L909.7,67.0 L912.1,69.5 L915.1,71.3 L915.5,76.1 L912.7,81.0 L914.5,83.4 L920.6,85.2 L923.6,89.4 L921.8,95.5 L924.8,100.3 L930.3,101.6 L933.9,102.8 L934.5,106.0 L936.0,114.0 L939.0,123.0 L949.0,123.0 L960.0,132.0 L976.0,131.0 L989.0,133.0 L986.0,137.0 L973.0,139.0 L971.0,151.0 L981.0,163.0 L978.0,171.0 L966.0,174.0 L960.0,183.0 L958.5,183.0 L956.0,184.9 L954.1,188.6 L956.6,191.1 L957.9,197.4 L951.6,196.8 L947.9,195.5 L947.3,200.5 L943.5,202.4 L944.8,207.4 L949.8,209.3 L950.4,214.3 L949.1,218.6 L945.4,221.8 L941.6,227.4 L946.6,228.6 L952.3,235.5 L956.0,241.8 L959.8,246.8 L964.1,244.3 L966.6,244.9 L967.3,248.0 L971.0,249.3 L966.0,251.1 L970.4,252.4 L974.8,256.8 L976.0,260.5 L981.0,264.9 L981.0,269.3 L976.0,271.1 L978.5,273.0 L977.0,278.0 L986.0,278.0 L998.0,283.0 L1024.0,299.0"/>
<path d="M415.3,272.0 L424.0,273.0 L431.0,272.0 L435.6,271.0 L436.9,263.1 L438.8,263.8 L443.8,261.3 L450.0,258.1 L455.0,254.4 L456.9,250.6 L461.3,248.8 L461.9,246.3 L456.9,243.8 L458.8,240.0 L463.8,234.4 L471.3,233.8 L478.8,234.4 L479.4,233.1 L474.4,231.3 L476.9,228.1 L481.3,223.8 L486.3,221.3 L491.9,215.6 L490.6,211.3 L488.1,208.8 L487.5,204.4 L482.5,201.3 L477.5,199.4 L481.9,195.6 L483.1,193.5 L479.4,193.1 L476.5,190.6 L475.0,193.1 L467.5,193.1 L460.0,192.5"/>
<path d="M439.6,293.8 L444.0,291.0 L449.0,289.8 L456.5,292.5 L460.9,295.6 L464.0,300.6 L470.0,301.5 L480.0,308.0 L487.8,309.4 L501.5,311.9 L512.0,306.0"/>
<path d="M439.6,291.3 L438.6,300.0 L438.4,312.5 L437.0,325.0 L437.8,333.8 L437.8,340.0"/>
<path d="M431.5,362.5 L429.6,366.0 L426.0,383.0 L421.0,405.0 L416.0,425.0 L411.0,440.0 L407.0,449.0"/>
<path d="M368.8,363.1 L372.0,371.0 L380.0,391.0 L388.0,410.0 L398.0,433.0 L404.0,450.0 L406.0,455.0"/>
<path d="M604.0,258.0 L616.0,302.0 L614.0,303.0 L615.0,312.0 L626.0,310.0 L629.0,315.0 L623.0,322.0 L614.0,328.0 L512.0,354.0 L522.0,366.0 L562.0,405.0 L546.0,412.0 L537.0,430.5 L512.0,435.0 L498.0,437.0 L464.0,471.0 L407.0,464.0"/>
<path d="M623.0,322.0 L685.0,331.0 L753.0,366.0 L768.0,373.0 L905.5,471.0 L988.0,478.0 L1024.0,479.0"/>
<path d="M1000.5,476.0 L1018.0,453.5 L1024.0,443.5"/>
</g>
<g fill="none" stroke="#2c2c14" stroke-width="1.05" stroke-dasharray="1.3 2.8" stroke-linecap="butt">
<path d="M24.0,44.0 C24.8,43.9 26.3,43.1 29.0,43.6 C31.7,44.1 36.9,46.4 40.0,47.0 C43.1,47.6 44.6,46.8 47.5,47.0 C50.4,47.2 55.0,48.6 57.5,48.0 C60.0,47.4 60.8,44.5 62.5,43.6 C64.2,42.7 65.8,42.1 67.5,42.4 C69.2,42.7 70.4,44.7 72.5,45.5 C74.6,46.3 78.3,46.8 80.0,47.4 C81.7,48.0 81.5,48.1 82.5,49.0 C83.5,49.9 84.8,51.9 86.0,53.0 C87.2,54.1 88.7,54.2 90.0,55.5 C91.3,56.8 93.3,59.7 94.0,60.5"/>
<path d="M92.5,26.0 C92.5,26.8 91.8,29.2 92.5,30.5 C93.2,31.8 96.8,32.6 97.0,33.6 C97.2,34.6 95.3,35.6 94.0,36.8 C92.7,37.9 91.1,39.8 89.4,40.5 C87.7,41.2 85.4,40.4 83.8,41.0 C82.2,41.6 80.6,43.5 80.0,44.0"/>
<path d="M103.8,65.5 C104.2,66.3 105.0,69.1 106.0,70.5 C107.0,71.9 108.1,73.1 110.0,74.0 C111.9,74.9 115.8,76.2 117.5,76.0 C119.2,75.8 119.2,74.8 120.0,73.0 C120.8,71.2 121.7,67.6 122.5,65.5 C123.3,63.4 124.6,61.3 125.0,60.5"/>
<path d="M14.0,25.0 C15.8,24.6 21.0,23.0 25.0,22.5 C29.0,22.0 33.8,22.0 38.0,22.0 C42.2,22.0 48.0,22.5 50.0,22.6"/>
<path d="M135.5,22.6 C135.8,23.8 135.3,28.3 137.0,30.0 C138.7,31.7 141.7,32.4 145.6,32.6 C149.5,32.8 157.2,32.7 160.6,31.4 C163.9,30.1 164.8,26.1 165.7,25.0"/>
<path d="M164.0,31.0 C166.0,30.8 172.3,29.2 176.0,30.0 C179.7,30.8 182.3,32.7 186.0,36.0 C189.7,39.3 194.3,47.0 198.0,50.0 C201.7,53.0 204.2,54.0 208.0,54.0 C211.8,54.0 218.5,52.3 221.0,50.0 C223.5,47.7 222.8,43.7 223.0,40.0 C223.2,36.3 222.3,31.0 222.0,28.0 C221.7,25.0 221.2,23.0 221.0,22.0"/>
<path d="M223.0,51.5 C225.6,51.9 233.0,52.6 238.5,54.0 C244.0,55.4 251.0,56.8 256.0,60.0 C261.0,63.2 264.5,69.2 268.5,73.0 C272.5,76.8 277.9,79.3 280.0,83.0 C282.1,86.7 279.6,92.5 281.0,95.4 C282.4,98.3 287.1,98.3 288.6,100.4 C290.1,102.5 290.2,105.3 290.0,108.0 C289.8,110.7 287.8,115.2 287.4,116.7"/>
<path d="M130.5,45.0 C131.8,43.8 134.7,39.7 138.0,37.6 C141.3,35.5 148.5,33.4 150.6,32.6"/>
<path d="M130.5,45.0 C130.2,47.1 130.2,54.4 129.0,57.7 C127.8,61.0 124.2,62.5 123.0,65.0 C121.8,67.5 122.2,71.7 122.0,73.0"/>
<path d="M104.0,68.0 C105.0,69.0 107.0,72.8 110.0,74.0 C113.0,75.2 117.5,74.8 122.0,75.0 C126.5,75.2 133.3,75.6 137.0,75.0 C140.7,74.4 141.7,73.5 144.0,71.5 C146.3,69.5 147.0,65.2 150.6,63.0 C154.2,60.8 159.8,58.5 165.7,58.0 C171.6,57.5 180.6,59.8 186.0,60.0 C191.4,60.2 194.3,60.0 198.0,59.0 C201.7,58.0 206.3,54.8 208.0,54.0"/>
<path d="M137.0,75.0 C136.3,76.7 134.5,81.7 133.0,85.0 C131.5,88.3 129.7,92.7 128.0,95.0 C126.3,97.3 123.8,98.3 123.0,99.0"/>
<path d="M281.0,88.0 C282.3,86.3 287.8,81.0 288.6,78.0 C289.4,75.0 284.8,73.3 286.0,70.0 C287.2,66.7 292.2,61.7 296.0,58.0 C299.8,54.3 302.9,49.9 308.7,47.7 C314.5,45.5 325.4,46.5 331.0,45.0 C336.6,43.5 339.6,39.0 342.6,39.0 C345.6,39.0 346.7,42.5 349.0,45.0 C351.3,47.5 353.9,51.0 356.4,54.0 C358.9,57.0 362.7,61.5 364.0,63.0"/>
<path d="M288.6,100.4 C291.5,100.2 301.6,100.1 306.0,99.0 C310.4,97.9 314.8,96.7 315.0,94.0 C315.2,91.3 306.8,86.2 307.5,83.0 C308.2,79.8 312.9,77.3 319.0,75.0 C325.1,72.7 336.5,71.0 344.0,69.0 C351.5,67.0 357.8,65.1 364.0,63.0 C370.2,60.9 375.7,58.4 381.5,56.5 C387.3,54.6 396.1,52.3 399.0,51.5"/>
<path d="M326.0,22.6 C329.0,22.6 337.3,22.6 344.0,22.6 C350.7,22.6 361.0,21.5 366.4,22.6 C371.8,23.7 374.0,26.5 376.5,29.0 C379.0,31.5 381.1,34.5 381.5,37.6 C381.9,40.7 378.6,45.0 379.0,47.7 C379.4,50.4 380.7,53.4 384.0,54.0 C387.3,54.6 396.1,53.8 399.0,51.5 C401.9,49.2 398.7,43.1 401.6,40.0 C404.5,36.9 411.6,34.0 416.6,32.6 C421.6,31.2 427.5,31.4 431.7,31.4 C435.9,31.4 439.8,33.7 441.7,32.6 C443.6,31.5 442.8,26.3 443.0,25.0"/>
<path d="M399.0,51.5 C400.3,53.8 404.3,61.1 406.6,65.0 C408.9,68.9 411.9,72.0 413.0,75.0 C414.1,78.0 413.0,81.7 413.0,83.0"/>
<path d="M416.6,32.6 L421.7,24.0"/>
<path d="M478.0,22.6 C478.0,24.3 479.4,30.1 478.0,32.6 C476.6,35.1 472.6,35.1 469.4,37.6 C466.2,40.1 460.9,44.4 459.0,47.7 C457.1,51.1 457.2,54.4 458.0,57.7 C458.8,61.1 461.3,65.3 464.0,67.8 C466.7,70.3 470.6,71.8 474.4,72.8 C478.2,73.8 483.2,75.7 487.0,74.0 C490.8,72.3 496.2,66.0 497.0,62.7 C497.8,59.4 495.3,55.7 492.0,54.0 C488.7,52.3 480.3,54.6 477.0,52.7 C473.7,50.8 473.3,45.2 472.0,42.7 C470.7,40.2 469.8,38.5 469.4,37.6"/>
<path d="M497.0,62.7 C498.7,61.9 504.5,58.2 507.0,57.7 C509.5,57.2 511.2,59.6 512.0,60.0"/>
<path d="M487.0,74.0 C489.2,73.8 495.8,72.8 500.0,73.0 C504.2,73.2 508.3,73.8 512.0,75.0 C515.7,76.2 517.8,77.8 522.0,80.0 C526.2,82.2 534.5,86.7 537.0,88.0"/>
<path d="M494.5,109.0 C495.8,110.5 499.9,115.2 502.0,118.0 C504.1,120.8 505.3,123.4 507.0,125.5 C508.7,127.6 511.2,129.7 512.0,130.5"/>
<path d="M472.0,133.0 C472.0,135.9 471.6,144.3 472.0,150.6 C472.4,156.9 473.6,165.3 474.4,170.7 C475.2,176.1 476.6,180.9 477.0,183.0"/>
<path d="M477.0,135.5 C477.8,137.6 479.1,144.8 482.0,148.0 C484.9,151.2 489.5,153.6 494.5,154.4 C499.5,155.2 509.1,153.2 512.0,153.0"/>
<path d="M459.0,163.0 L474.0,163.0"/>
<path d="M469.0,173.0 C471.2,173.4 477.3,174.6 482.0,175.7 C486.7,176.8 492.0,179.3 497.0,179.5 C502.0,179.7 509.5,177.4 512.0,177.0"/>
<path d="M512.0,60.0 C514.5,59.0 521.6,55.7 527.0,54.0 C532.4,52.3 538.8,51.3 544.6,50.0 C550.4,48.7 557.0,46.4 562.0,46.4 C567.0,46.4 572.6,49.4 574.7,50.0"/>
<path d="M543.4,25.0 C541.9,26.7 535.7,32.0 534.6,35.0 C533.5,38.0 535.3,40.8 537.0,42.7 C538.7,44.6 541.3,45.8 544.6,46.4 C547.9,47.0 554.9,46.4 557.0,46.4"/>
<path d="M543.4,25.0 C545.7,25.2 552.2,26.6 557.0,26.4 C561.8,26.2 569.5,24.2 572.0,23.8"/>
<path d="M557.0,54.0 C556.8,55.8 555.2,61.7 556.0,65.0 C556.8,68.3 561.0,72.5 562.0,74.0"/>
<path d="M595.0,88.0 C595.3,89.4 597.5,93.7 597.0,96.6 C596.5,99.5 594.8,103.3 592.0,105.4 C589.2,107.5 583.1,108.2 580.0,109.0 C576.9,109.8 574.6,110.2 573.5,110.4"/>
<path d="M573.5,130.5 C572.2,131.6 567.5,134.3 566.0,136.8 C564.5,139.3 563.7,143.1 564.7,145.6 C565.7,148.1 569.7,150.1 572.0,152.0 C574.3,153.9 577.4,154.7 578.5,157.0 C579.6,159.3 579.6,163.0 578.5,165.7 C577.4,168.4 574.5,170.9 572.0,173.0 C569.5,175.1 567.2,178.4 563.5,178.0 C559.8,177.6 554.0,171.5 549.6,170.7 C545.2,169.9 541.2,172.2 537.0,173.0 C532.8,173.8 528.7,174.6 524.5,175.7 C520.3,176.8 514.1,178.9 512.0,179.5"/>
<path d="M512.0,145.6 C514.1,145.8 520.3,146.4 524.5,147.0 C528.7,147.6 532.4,148.6 537.0,149.4 C541.6,150.2 546.2,151.6 552.0,152.0 C557.8,152.4 568.7,152.0 572.0,152.0"/>
<path d="M578.5,157.0 C581.6,157.0 590.9,156.6 597.0,157.0 C603.1,157.4 609.9,158.8 615.0,159.4 C620.1,160.0 624.2,162.1 627.5,160.6 C630.8,159.1 632.1,153.9 635.0,150.6 C637.9,147.3 642.7,144.8 645.0,140.6 C647.3,136.4 648.3,128.0 649.0,125.5"/>
<path d="M627.5,160.6 C628.8,162.3 633.1,167.0 635.0,170.7 C636.9,174.4 638.2,180.9 638.8,183.0"/>
<path d="M637.5,93.0 C640.6,94.2 649.8,96.2 656.0,100.4 C662.2,104.6 668.8,113.0 675.0,118.0 C681.2,123.0 687.5,126.2 693.0,130.5 C698.5,134.8 701.3,141.5 708.0,144.0 C714.7,146.5 728.8,145.3 733.0,145.6"/>
<path d="M656.0,100.4 C655.2,102.5 652.4,109.1 651.0,113.0 C649.6,116.9 648.1,122.2 647.5,124.0"/>
<path d="M637.5,22.6 C640.0,23.7 648.9,26.1 652.6,29.0 C656.4,31.9 657.9,36.0 660.0,40.0 C662.1,44.0 663.3,48.9 665.0,52.7 C666.7,56.5 668.3,59.4 670.0,62.7 C671.7,66.0 674.2,71.1 675.0,72.8"/>
<path d="M665.0,52.7 C667.1,51.0 673.1,45.4 677.7,42.7 C682.3,40.0 686.9,37.9 692.7,36.4 C698.6,34.9 707.3,33.6 712.8,34.0 C718.2,34.4 721.2,37.2 725.4,39.0 C729.6,40.8 733.8,44.6 738.0,45.0 C742.2,45.4 746.3,43.1 750.5,41.4 C754.7,39.7 760.9,36.1 763.0,35.0"/>
<path d="M717.8,25.0 L725.4,39.0"/>
<path d="M738.0,22.6 C740.5,24.3 748.0,29.7 753.0,32.6 C758.0,35.5 765.5,38.8 768.0,40.0"/>
<path d="M763.0,35.0 C762.6,37.5 762.2,46.2 760.5,50.0 C758.8,53.8 754.2,56.4 753.0,57.7"/>
<path d="M728.0,165.7 C730.5,166.5 736.3,169.0 743.0,170.7 C749.7,172.4 759.7,174.9 768.0,175.7 C776.3,176.5 788.8,174.5 793.0,175.7 C797.2,176.9 793.0,181.8 793.0,183.0"/>
<path d="M788.0,36.4 C790.1,36.8 796.0,38.4 800.6,39.0 C805.2,39.6 812.4,41.1 815.7,40.0 C819.1,38.9 820.3,35.1 820.7,32.6 C821.1,30.1 821.0,26.7 818.0,25.0 C815.0,23.3 805.5,23.0 803.0,22.6"/>
<path d="M820.7,32.6 C823.6,32.8 832.1,34.0 838.0,34.0 C843.9,34.0 850.5,33.3 856.0,32.6 C861.5,31.9 867.0,31.5 871.0,30.0 C875.0,28.5 878.2,24.8 879.7,23.8"/>
<path d="M838.0,34.0 C838.5,36.1 840.8,43.1 840.8,46.4 C840.8,49.7 838.5,52.7 838.0,54.0"/>
<path d="M788.0,69.0 C789.3,70.8 791.8,77.1 795.6,80.0 C799.4,82.9 804.9,86.6 810.7,86.6 C816.6,86.6 826.5,81.9 830.7,80.0 C834.9,78.1 832.1,75.0 835.8,75.0 C839.5,75.0 849.9,80.8 853.0,80.0 C856.1,79.2 852.0,72.5 854.6,70.0 C857.2,67.5 864.8,66.8 868.4,65.0 C872.0,63.2 874.7,60.0 876.0,59.0"/>
<path d="M853.0,70.0 C855.5,70.0 863.3,67.8 868.0,70.0 C872.7,72.2 878.0,80.2 881.0,83.0 C884.0,85.8 887.3,85.2 886.0,86.6 C884.7,88.0 877.2,89.7 873.4,91.6 C869.6,93.5 865.1,96.9 863.4,98.0"/>
<path d="M918.6,99.0 C916.3,99.2 908.1,99.1 904.8,100.4 C901.4,101.7 898.5,103.8 898.5,106.7 C898.5,109.6 902.3,114.9 904.8,118.0 C907.3,121.1 911.3,123.8 913.6,125.5 C915.9,127.2 920.1,127.2 918.6,128.0 C917.1,128.8 909.0,130.1 904.8,130.5 C900.6,130.9 895.4,130.5 893.5,130.5"/>
<path d="M956.0,65.0 C959.0,65.7 968.9,66.9 974.0,69.0 C979.1,71.1 983.1,77.4 986.4,77.8 C989.7,78.2 991.1,73.0 994.0,71.5 C996.9,70.0 1000.9,68.8 1004.0,69.0 C1007.1,69.2 1010.6,70.1 1012.7,72.8 C1014.8,75.5 1014.6,83.0 1016.5,85.0 C1018.4,87.0 1022.8,85.0 1024.0,85.0"/>
<path d="M951.0,119.0 C952.3,117.6 955.4,113.3 958.8,110.4 C962.2,107.5 965.4,103.4 971.3,101.7 C977.2,100.0 986.9,100.6 994.0,100.4 C1001.1,100.2 1009.0,99.6 1014.0,100.4 C1019.0,101.2 1022.3,104.6 1024.0,105.4"/>
<path d="M982.6,163.0 C984.5,164.3 990.4,167.8 994.0,170.7 C997.6,173.6 1002.3,179.0 1004.0,180.7"/>
<path d="M950.0,182.0 C950.8,180.5 953.2,174.9 955.0,173.0 C956.8,171.1 960.0,171.1 961.0,170.7"/>
<path d="M861.0,135.5 C863.5,135.1 870.6,133.8 876.0,133.0 C881.4,132.2 888.1,130.7 893.5,130.5 C898.9,130.3 906.1,131.6 908.6,131.8"/>
<path d="M861.0,135.5 C860.3,137.2 860.0,143.1 857.0,145.6 C854.0,148.1 846.8,148.7 843.3,150.6 C839.8,152.5 836.2,154.5 835.8,157.0 C835.4,159.5 837.4,163.0 840.8,165.7 C844.2,168.4 850.6,170.9 856.0,173.0 C861.4,175.1 867.6,176.7 873.4,178.0 C879.2,179.3 888.1,180.2 891.0,180.7"/>
<path d="M901.0,160.6 C900.6,162.3 899.8,167.8 898.5,170.7 C897.2,173.6 894.3,176.8 893.5,178.0"/>
<path d="M911.0,140.6 C911.2,142.3 912.7,147.7 912.3,150.6 C911.9,153.5 909.2,156.8 908.6,158.0"/>
<path d="M848.3,118.0 C846.6,119.2 840.1,121.7 838.0,125.5 C835.9,129.3 837.5,137.2 835.8,140.6 C834.1,143.9 831.4,143.9 828.0,145.6 C824.6,147.3 818.0,148.5 815.7,150.6 C813.4,152.7 814.0,155.9 814.4,158.0 C814.8,160.1 817.4,162.2 818.0,163.0"/>
<path d="M414.0,283.4 C414.4,285.1 417.0,290.5 416.6,293.4 C416.2,296.3 411.6,299.3 411.6,301.0 C411.6,302.7 413.7,303.5 416.6,303.5 C419.5,303.5 425.6,301.0 429.0,301.0 C432.4,301.0 435.4,303.1 436.7,303.5"/>
<path d="M409.0,306.0 C408.6,308.1 407.4,313.9 406.6,318.5 C405.8,323.1 404.4,331.1 404.0,333.6"/>
<path d="M408.0,336.0 C408.8,335.2 410.8,332.2 413.0,331.0 C415.2,329.8 419.2,327.8 421.0,329.0 C422.8,330.2 424.3,335.2 424.0,338.0 C423.7,340.8 421.5,344.3 419.0,346.0 C416.5,347.7 411.2,348.8 409.0,348.0 C406.8,347.2 406.5,342.2 406.0,341.0"/>
<path d="M451.8,260.8 C452.6,262.0 456.4,265.1 456.8,268.0 C457.2,270.9 454.8,275.0 454.0,278.0 C453.2,281.0 453.0,283.8 451.8,286.0 C450.6,288.2 447.6,290.2 446.8,291.0"/>
<path d="M456.8,268.0 C459.3,267.4 467.0,265.4 472.0,264.6 C477.0,263.8 481.2,262.8 487.0,263.0 C492.8,263.2 503.7,265.3 507.0,265.8"/>
<path d="M487.0,263.0 C486.2,265.2 483.3,271.8 482.0,276.0 C480.7,280.2 479.0,284.6 479.4,288.4 C479.8,292.1 483.0,295.6 484.4,298.5 C485.8,301.4 487.4,304.8 488.0,306.0"/>
<path d="M492.0,214.4 C493.7,214.4 498.7,214.0 502.0,214.4 C505.3,214.8 510.3,216.6 512.0,217.0"/>
<path d="M512.0,222.0 C514.1,223.2 520.3,226.3 524.5,229.4 C528.7,232.5 533.2,237.1 537.0,240.7 C540.8,244.3 542.8,247.9 547.0,250.8 C551.2,253.7 556.8,255.4 562.0,258.3 C567.2,261.2 575.8,266.6 578.5,268.3"/>
<path d="M512.0,273.4 C514.1,274.4 520.3,276.5 524.5,279.6 C528.7,282.7 534.9,289.9 537.0,292.0"/>
<path d="M641.0,183.0 C642.9,185.1 649.0,191.3 652.6,195.5 C656.2,199.7 659.0,203.8 662.6,208.0 C666.2,212.2 672.1,218.5 674.0,220.6"/>
<path d="M561.0,346.0 C560.3,348.1 557.8,355.4 557.0,358.7 C556.2,362.0 556.2,364.8 556.0,366.0"/>
<path d="M793.0,185.5 C793.4,186.8 794.3,190.9 795.6,193.0 C796.9,195.1 797.2,196.7 800.6,198.0 C804.0,199.3 812.1,198.9 815.7,200.6 C819.3,202.3 821.0,206.8 822.0,208.0"/>
<path d="M913.6,185.5 C911.1,187.6 901.6,193.8 898.5,198.0 C895.4,202.2 896.8,206.4 894.7,210.6 C892.6,214.8 886.6,219.3 886.0,223.0 C885.4,226.7 890.2,228.8 891.0,233.0 C891.8,237.2 892.2,244.2 891.0,248.0 C889.8,251.8 885.2,252.8 883.5,255.8 C881.8,258.8 881.4,264.1 881.0,265.8"/>
<path d="M844.6,239.5 C847.7,239.9 858.6,241.0 863.4,242.0 C868.2,243.0 870.9,243.6 873.4,245.7 C875.9,247.8 875.0,252.8 878.4,254.5 C881.8,256.2 890.1,255.2 893.5,255.8 C896.9,256.4 898.1,256.4 898.5,258.3 C898.9,260.2 898.9,265.8 896.0,267.0 C893.1,268.2 886.4,266.0 881.0,265.8 C875.6,265.6 866.3,265.8 863.4,265.8"/>
<path d="M898.5,277.0 C900.2,275.8 903.6,270.8 908.6,269.6 C913.6,268.4 921.9,269.2 928.6,269.6 C935.3,270.0 943.7,273.5 948.7,272.0 C953.7,270.5 955.4,263.5 958.8,260.8 C962.1,258.1 967.1,256.6 968.8,255.8"/>
<path d="M896.0,267.0 C896.4,268.7 897.7,273.8 898.5,277.0 C899.3,280.2 898.1,283.7 901.0,286.0 C903.9,288.3 912.2,288.5 916.0,291.0 C919.8,293.5 920.7,298.1 923.6,301.0 C926.5,303.9 930.2,306.8 933.6,308.5 C937.0,310.2 942.0,310.6 943.7,311.0"/>
<path d="M830.7,298.5 C832.4,298.1 837.4,296.9 840.8,296.0 C844.1,295.1 847.0,295.1 850.8,293.4 C854.6,291.7 861.3,287.2 863.4,286.0"/>
<path d="M830.7,298.5 C832.4,300.2 836.6,305.2 840.8,308.5 C845.0,311.8 850.4,317.4 855.8,318.5 C861.2,319.6 868.4,316.1 873.4,314.8 C878.4,313.6 883.9,311.6 886.0,311.0"/>
<path d="M886.0,301.0 C886.0,302.7 885.2,308.1 886.0,311.0 C886.8,313.9 888.1,316.8 891.0,318.5 C893.9,320.2 899.3,321.8 903.5,321.0 C907.7,320.2 911.4,315.6 916.0,313.5 C920.6,311.4 926.8,308.9 931.0,308.5 C935.2,308.1 939.3,310.6 941.0,311.0"/>
<path d="M855.8,318.5 C856.2,319.8 860.5,323.5 858.4,326.0 C856.3,328.5 847.9,330.3 843.3,333.6 C838.7,336.9 833.8,341.0 830.7,346.0 C827.6,351.0 826.6,357.9 824.5,363.7 C822.4,369.5 820.7,375.2 818.2,381.0 C815.7,386.8 810.9,395.7 809.4,398.6"/>
<path d="M903.5,321.0 C902.7,323.1 899.6,329.8 898.5,333.6 C897.4,337.4 897.2,341.9 897.0,343.6"/>
<path d="M941.0,311.0 C943.1,313.1 950.3,318.9 953.7,323.5 C957.1,328.1 959.8,333.6 961.3,338.6 C962.8,343.6 962.5,348.7 962.5,353.7 C962.5,358.7 962.1,363.5 961.3,368.5 C960.5,373.5 958.1,381.1 957.5,383.6"/>
<path d="M961.3,329.8 C963.4,329.4 969.2,327.7 973.8,327.3 C978.4,326.9 984.3,327.9 988.9,327.3 C993.5,326.7 999.3,324.1 1001.4,323.5"/>
<path d="M988.9,327.3 C989.8,329.2 991.9,334.7 994.0,338.6 C996.1,342.6 999.3,347.3 1001.4,351.0 C1003.5,354.7 1005.6,359.3 1006.5,361.0"/>
<path d="M926.0,343.6 C928.5,343.4 936.0,342.0 941.0,342.4 C946.0,342.8 952.7,344.1 956.3,346.0 C959.9,347.9 961.5,352.4 962.5,353.7"/>
<path d="M926.0,343.6 C925.6,345.7 924.8,352.3 923.6,356.0 C922.4,359.7 921.5,363.9 918.6,366.0 C915.7,368.1 909.4,365.6 906.0,368.5 C902.6,371.4 902.2,379.0 898.5,383.6 C894.8,388.2 887.2,391.0 883.5,396.0 C879.8,401.0 878.5,408.2 876.0,413.7 C873.5,419.1 870.7,424.5 868.4,428.7 C866.1,432.9 863.1,437.1 862.0,438.8"/>
<path d="M894.7,351.0 C897.0,352.3 904.6,356.2 908.6,358.7 C912.6,361.2 916.9,364.8 918.6,366.0"/>
<path d="M1001.4,288.4 C1000.6,290.9 997.5,299.7 996.4,303.5 C995.3,307.3 994.2,308.5 995.0,311.0 C995.8,313.5 999.9,316.4 1001.4,318.5 C1002.9,320.6 1003.6,322.7 1004.0,323.5"/>
<path d="M963.8,225.7 C965.9,225.5 972.1,224.0 976.3,224.4 C980.5,224.8 983.9,226.3 988.9,228.0 C993.9,229.7 1001.1,233.2 1006.5,234.5 C1011.9,235.8 1019.0,235.5 1021.5,235.7"/>
<path d="M134.0,378.5 L134.0,408.7"/>
<path d="M134.0,413.7 C135.1,414.8 137.0,417.7 140.6,420.0 C144.2,422.3 150.6,425.2 155.6,427.5 C160.6,429.8 168.2,432.8 170.7,433.8"/>
<path d="M135.5,411.0 C136.8,409.8 140.1,405.7 143.0,403.6 C145.9,401.5 151.3,401.1 153.0,398.6 C154.7,396.1 154.0,391.5 153.0,388.6 C152.0,385.7 147.2,384.1 146.8,381.0 C146.4,377.9 150.0,371.7 150.6,369.8"/>
<path d="M150.6,369.8 C155.6,369.6 173.6,367.1 180.7,368.5 C187.8,369.9 190.8,373.5 193.3,378.5 C195.8,383.5 195.0,393.0 195.8,398.6 C196.6,404.2 197.9,410.1 198.3,412.4"/>
<path d="M195.8,379.8 C198.3,379.2 207.0,377.5 210.8,376.0 C214.6,374.5 217.1,371.8 218.4,371.0"/>
<path d="M195.8,394.9 C198.7,395.5 209.2,397.6 213.4,398.6 C217.6,399.6 216.4,400.6 221.0,401.0 C225.6,401.4 235.2,400.6 241.0,401.0 C246.8,401.4 253.5,403.2 256.0,403.6"/>
<path d="M218.4,371.0 C218.4,373.5 218.0,381.0 218.4,386.0 C218.8,391.0 220.6,398.5 221.0,401.0"/>
<path d="M221.0,401.0 C221.8,403.5 223.5,412.8 226.0,416.0 C228.5,419.2 231.8,420.4 236.0,420.0 C240.2,419.6 248.5,414.8 251.0,413.7"/>
<path d="M198.3,412.4 C200.4,413.7 207.5,418.1 210.8,420.0 C214.2,421.9 216.7,420.6 218.4,423.7 C220.1,426.8 220.6,436.3 221.0,438.8"/>
<path d="M131.8,455.0 C134.9,453.3 144.1,448.5 150.6,445.0 C157.1,441.5 164.8,437.4 170.7,433.8 C176.5,430.2 181.1,427.3 185.7,423.7 C190.3,420.1 196.2,414.3 198.3,412.4"/>
<path d="M223.4,441.3 L251.0,441.3"/>
<path d="M148.0,470.0 C150.9,467.9 159.8,461.4 165.7,457.7 C171.6,454.0 177.3,449.9 183.2,447.6 C189.0,445.3 196.6,443.2 200.8,443.8 C205.0,444.4 207.1,448.0 208.3,451.4 C209.6,454.8 210.0,460.2 208.3,464.0 C206.6,467.8 202.9,471.3 198.3,474.0 C193.7,476.7 185.3,478.6 180.7,480.0 C176.1,481.4 174.9,482.9 170.7,482.7 C166.5,482.5 159.8,480.1 155.6,479.0 C151.4,477.9 147.3,476.8 145.6,476.4"/>
<path d="M210.8,460.0 C212.1,460.7 216.7,462.1 218.4,464.0 C220.1,465.9 218.9,469.1 221.0,471.4 C223.1,473.7 227.2,476.0 231.0,477.7 C234.8,479.4 241.4,480.8 243.5,481.4"/>
<path d="M145.6,476.4 C145.0,478.1 142.9,483.6 141.8,486.5 C140.8,489.4 139.7,492.8 139.3,494.0"/>
<path d="M139.3,494.0 C142.9,493.8 153.7,493.0 160.6,492.8 C167.5,492.6 174.8,492.6 180.7,492.8 C186.6,493.0 193.3,493.8 195.8,494.0"/>
<path d="M218.4,466.4 C216.7,468.9 211.2,476.4 208.3,481.4 C205.4,486.4 202.5,491.5 200.8,496.5 C199.1,501.5 199.1,507.4 198.3,511.6 C197.5,515.8 195.4,517.4 195.8,521.6 C196.2,525.8 199.8,532.1 200.8,536.7 C201.8,541.3 201.8,547.0 202.0,549.0"/>
<path d="M131.8,456.4 C129.5,458.1 122.8,462.6 118.0,466.4 C113.2,470.2 108.0,474.8 103.0,479.0 C98.0,483.2 93.4,488.6 87.9,491.5 C82.5,494.4 77.8,494.6 70.3,496.5 C62.8,498.4 49.0,499.4 42.7,502.8 C36.4,506.2 36.8,509.3 32.6,516.6 C28.4,523.9 20.1,541.7 17.6,546.7"/>
<path d="M135.5,507.8 C133.8,510.1 129.7,518.1 125.5,521.6 C121.3,525.1 115.8,526.5 110.4,529.0 C105.0,531.5 96.9,534.0 92.9,536.7 C88.9,539.5 87.6,544.0 86.6,545.5"/>
<path d="M251.0,413.7 C251.2,418.2 252.0,430.6 252.0,441.0 C252.0,451.4 251.2,470.2 251.0,476.0"/>
<path d="M286.0,378.5 C286.4,381.0 287.3,388.6 288.6,393.6 C289.9,398.6 292.2,404.5 293.7,408.7 C295.2,412.9 296.6,414.5 297.4,418.7 C298.2,422.9 299.8,430.4 298.7,433.8 C297.6,437.2 292.3,438.0 291.0,438.8"/>
<path d="M256.0,418.7 C257.7,418.5 261.8,417.5 266.0,417.5 C270.2,417.5 278.5,418.5 281.0,418.7"/>
<path d="M256.0,398.6 C256.8,396.5 258.1,389.8 261.0,386.0 C263.9,382.2 271.5,377.7 273.6,376.0"/>
<path d="M298.7,433.8 C302.1,434.0 312.1,434.4 318.8,435.0 C325.5,435.6 331.7,435.6 338.8,437.5 C345.9,439.4 354.3,443.8 361.4,446.3 C368.5,448.8 374.6,451.2 381.5,452.6 C388.4,454.1 399.2,454.6 402.8,455.0"/>
<path d="M256.0,482.7 C258.5,482.1 265.6,480.2 271.0,479.0 C276.4,477.8 285.7,475.8 288.6,475.2"/>
<path d="M406.6,486.5 C409.1,486.9 416.7,489.4 421.7,489.0 C426.7,488.6 430.8,485.1 436.7,484.0 C442.6,482.9 451.4,482.3 456.8,482.7 C462.2,483.1 466.5,484.2 469.4,486.5 C472.3,488.8 472.3,493.8 474.4,496.5 C476.5,499.2 478.2,502.0 482.0,502.8 C485.8,503.6 492.8,502.1 497.0,501.5 C501.2,500.9 504.5,499.0 507.0,499.0 C509.5,499.0 508.2,500.8 512.0,501.5 C515.8,502.2 525.4,504.3 529.6,503.5 C533.8,502.7 533.9,499.1 537.0,496.5 C540.1,493.9 545.9,487.7 548.4,487.7 C550.9,487.7 551.4,492.9 552.0,496.5 C552.6,500.1 550.9,505.6 552.0,509.0 C553.1,512.4 554.6,514.7 558.4,516.6 C562.2,518.5 569.9,519.8 574.7,520.4 C579.5,521.0 583.1,519.6 587.3,520.4 C591.5,521.2 595.6,525.1 599.8,525.4 C604.0,525.7 607.8,523.9 612.4,522.0 C617.0,520.1 621.6,516.6 627.5,514.0 C633.4,511.4 640.8,509.3 647.5,506.6 C654.2,503.9 660.9,500.5 667.6,497.8 C674.3,495.1 682.7,491.0 687.7,490.2 C692.7,489.4 692.7,492.6 697.7,492.8 C702.7,493.0 711.1,491.9 717.8,491.5 C724.5,491.1 729.6,490.4 738.0,490.2 C746.4,490.0 760.9,490.0 768.0,490.2 C775.1,490.4 776.4,490.0 780.6,491.5 C784.8,493.0 788.8,496.9 793.0,499.0 C797.2,501.1 801.3,503.4 805.7,504.0 C810.1,504.6 817.2,503.0 819.5,502.8"/>
<path d="M558.4,368.5 C560.3,370.6 566.6,378.3 569.7,381.0 C572.9,383.7 573.1,384.4 577.3,384.8 C581.5,385.2 588.9,384.1 594.8,383.6 C600.6,383.1 606.5,381.8 612.4,381.6 C618.3,381.4 623.3,381.6 630.0,382.3 C636.7,383.0 646.3,384.6 652.6,386.0 C658.9,387.4 662.6,389.9 667.6,391.0 C672.6,392.1 676.4,392.6 682.7,392.9 C689.0,393.2 699.0,392.1 705.3,392.9 C711.6,393.6 714.0,395.6 720.3,397.4 C726.6,399.2 737.5,400.9 743.0,403.6 C748.5,406.3 749.7,409.9 753.0,413.7 C756.3,417.5 763.0,422.8 763.0,426.2 C763.0,429.6 757.2,431.3 753.0,433.8 C748.8,436.3 742.2,439.2 738.0,441.3 C733.8,443.4 732.1,444.0 727.9,446.3 C723.7,448.6 716.6,452.5 712.8,455.0 C709.0,457.5 707.0,458.2 705.3,461.4 C703.6,464.6 703.4,470.2 702.8,474.0 C702.2,477.8 701.7,482.3 701.5,484.0"/>
<path d="M615.0,522.9 C616.2,523.7 619.1,526.4 622.4,527.9 C625.7,529.4 630.8,529.8 635.0,531.7 C639.2,533.6 643.7,536.3 647.5,539.2 C651.3,542.1 655.7,545.8 657.6,549.0 C659.5,552.2 657.6,555.3 658.8,558.6 C660.0,561.9 662.5,565.7 665.0,568.6 C667.5,571.5 674.0,573.3 674.0,576.0 C674.0,578.7 667.3,581.8 665.0,585.0 C662.7,588.2 661.5,591.9 660.0,595.0 C658.5,598.1 657.1,600.6 656.3,603.7 C655.5,606.8 654.0,611.3 655.0,613.8 C656.0,616.3 661.5,614.6 662.6,618.8 C663.7,623.0 661.4,631.4 661.4,638.9 C661.4,646.4 661.2,658.8 662.6,664.0 C664.0,669.2 665.8,669.7 670.0,670.0 C674.2,670.3 682.9,667.0 687.7,666.0 C692.5,665.0 695.6,665.6 699.0,664.0 C702.4,662.4 704.2,657.8 707.8,656.4 C711.3,655.0 715.3,655.4 720.3,655.7 C725.3,656.0 732.5,658.5 738.0,658.0 C743.5,657.5 748.6,654.2 753.0,652.7 C757.4,651.2 762.6,651.3 764.3,649.0 C766.0,646.7 762.4,640.8 763.0,638.9 C763.6,637.0 766.1,637.8 768.0,637.6 C769.9,637.4 773.0,639.9 774.3,637.6 C775.5,635.3 773.6,626.5 775.5,623.8 C777.4,621.1 782.2,623.8 785.6,621.3 C789.0,618.8 791.4,612.7 795.6,608.7 C799.8,604.7 805.3,600.4 810.7,597.5 C816.1,594.6 824.0,594.1 828.2,591.2 C832.4,588.3 832.0,583.1 835.8,580.0 C839.6,576.9 845.8,574.5 850.8,572.4 C855.8,570.3 861.4,566.7 866.0,567.3 C870.6,567.9 873.8,573.9 878.4,576.0 C883.0,578.1 889.7,580.4 893.5,580.0 C897.3,579.6 899.1,576.8 901.0,573.6 C902.9,570.4 903.8,564.8 904.8,561.0 C905.8,557.2 907.9,553.5 907.3,551.0 C906.7,548.5 902.0,546.8 901.0,546.0"/>
<path d="M961.3,368.5 C960.7,371.0 955.0,380.2 957.5,383.6 C960.0,387.0 970.6,387.4 976.3,388.6 C981.9,389.8 987.6,388.5 991.4,391.0 C995.2,393.5 996.1,399.0 999.0,403.6 C1001.9,408.2 1007.2,413.2 1009.0,418.7 C1010.8,424.1 1010.4,430.4 1010.0,436.3 C1009.6,442.2 1007.7,447.5 1006.5,453.8 C1005.3,460.1 1003.3,470.6 1002.7,474.0"/>
<path d="M999.0,403.6 C1001.5,403.0 1009.8,400.7 1014.0,399.9 C1018.2,399.1 1022.3,398.8 1024.0,398.6"/>
<path d="M819.5,509.0 C821.8,509.6 828.9,511.7 833.3,512.8 C837.7,513.9 841.8,515.6 845.8,515.4 C849.8,515.2 853.9,510.6 857.0,511.6 C860.1,512.6 862.7,518.2 864.6,521.6 C866.5,525.0 866.5,528.4 868.4,531.7 C870.3,535.1 872.6,539.4 876.0,541.7 C879.4,544.0 884.8,544.9 888.5,545.5 C892.2,546.1 896.8,545.5 898.5,545.5"/>
<path d="M1004.0,476.4 C1001.1,476.8 992.3,477.3 986.4,479.0 C980.5,480.7 974.2,483.6 968.8,486.5 C963.3,489.4 957.9,492.3 953.7,496.5 C949.5,500.7 946.6,506.6 943.7,511.6 C940.8,516.6 938.7,522.1 936.2,526.7 C933.7,531.3 931.5,535.5 928.6,539.2 C925.7,542.9 922.2,547.0 918.6,549.0 C915.0,551.0 909.2,550.7 907.3,551.0"/>
<path d="M187.0,551.0 C187.6,552.7 188.5,557.7 190.8,561.0 C193.1,564.3 197.0,568.1 200.8,571.0 C204.6,573.9 210.5,575.6 213.4,578.6 C216.3,581.6 216.3,585.4 218.4,588.7 C220.5,592.1 222.2,594.9 226.0,598.7 C229.8,602.5 236.4,606.7 241.0,611.3 C245.6,615.9 251.4,623.8 253.5,626.3"/>
<path d="M200.8,546.0 C201.2,548.5 200.4,557.2 203.3,561.0 C206.2,564.8 214.2,565.7 218.4,568.6 C222.6,571.5 225.9,575.2 228.4,578.6 C230.9,582.0 231.3,585.8 233.4,588.7 C235.5,591.6 238.1,593.3 241.0,596.2 C243.9,599.1 248.5,603.3 251.0,606.2 C253.5,609.1 255.2,612.5 256.0,613.8"/>
<path d="M256.0,615.0 C257.2,615.6 261.4,616.9 263.5,618.8 C265.6,620.7 265.6,625.9 268.5,626.3 C271.4,626.7 276.8,621.9 281.0,621.3 C285.2,620.7 290.1,620.9 293.7,622.6 C297.3,624.3 301.2,627.4 302.4,631.4 C303.6,635.4 301.2,643.9 301.0,646.4"/>
<path d="M258.5,628.8 C259.8,629.8 262.2,634.4 266.0,635.0 C269.8,635.6 276.4,633.6 281.0,632.6 C285.6,631.6 291.6,629.4 293.7,628.8"/>
<path d="M293.7,631.4 C293.2,633.9 293.1,642.6 291.0,646.4 C288.9,650.2 282.9,650.6 281.0,654.0 C279.1,657.4 278.5,662.8 279.8,666.5 C281.1,670.2 285.5,673.1 288.6,676.5 C291.8,679.9 296.2,682.4 298.7,686.6 C301.2,690.8 303.3,697.5 303.7,701.6 C304.1,705.7 301.4,709.4 301.0,711.0"/>
<path d="M300.0,649.0 C298.1,650.2 290.7,653.6 288.6,656.5 C286.5,659.4 286.2,663.2 287.4,666.5 C288.6,669.8 292.9,673.1 296.0,676.5 C299.1,679.9 303.9,683.2 306.0,686.6 C308.1,690.0 308.2,694.9 308.7,696.6"/>
<path d="M512.0,567.3 C514.5,566.7 522.8,563.4 527.0,563.6 C531.2,563.8 532.8,568.2 537.0,568.6 C541.2,569.0 548.7,564.8 552.0,566.0 C555.3,567.2 554.5,573.3 557.0,576.0 C559.5,578.7 563.8,579.7 567.2,582.4 C570.6,585.1 573.5,591.1 577.3,592.4 C581.1,593.7 585.6,590.6 589.8,590.0 C594.0,589.4 598.6,587.9 602.4,588.7 C606.2,589.5 608.2,593.1 612.4,595.0 C616.6,596.9 620.8,599.4 627.5,600.0 C634.2,600.6 647.6,598.7 652.6,598.7 C657.6,598.7 656.8,599.8 657.6,600.0"/>
<path d="M738.0,658.0 C739.7,658.6 745.9,659.2 748.0,661.5 C750.1,663.8 750.1,668.2 750.5,671.5 C750.9,674.8 748.8,679.2 750.5,681.5 C752.2,683.8 758.0,683.2 760.5,685.3 C763.0,687.4 764.2,691.3 765.5,694.0 C766.8,696.7 767.6,700.3 768.0,701.6"/>
<path d="M512.0,598.7 C514.1,599.8 523.0,601.6 524.5,605.0 C526.0,608.4 520.8,614.8 520.8,618.8 C520.8,622.8 521.8,626.5 524.5,628.8 C527.2,631.1 533.6,630.5 537.0,632.6 C540.4,634.7 541.6,638.3 544.6,641.4 C547.6,644.5 552.6,648.0 554.7,651.4 C556.8,654.8 555.5,659.6 557.0,661.5 C558.5,663.4 562.7,660.2 563.5,662.7 C564.3,665.2 562.0,671.7 562.0,676.5 C562.0,681.3 563.9,688.2 563.5,691.6 C563.1,695.0 562.5,695.6 559.7,696.6 C557.0,697.6 550.8,696.9 547.0,697.9 C543.2,698.9 539.7,701.6 537.0,702.9 C534.3,704.1 531.8,705.0 530.8,705.4"/>
<path d="M901.0,573.6 C902.9,574.7 910.2,578.1 912.3,580.0 C914.4,581.9 915.1,582.9 913.6,585.0 C912.1,587.1 907.3,589.5 903.5,592.4 C899.7,595.3 893.3,598.9 891.0,602.5 C888.7,606.1 888.9,610.2 889.7,613.8 C890.5,617.3 893.5,620.4 896.0,623.8 C898.5,627.1 902.9,629.7 904.8,633.9 C906.7,638.1 907.1,645.2 907.3,649.0 C907.5,652.8 909.1,655.2 906.0,656.4 C902.9,657.6 894.3,656.4 888.5,656.4 C882.7,656.4 875.2,654.7 871.0,656.4 C866.8,658.1 866.8,663.8 863.4,666.5 C860.0,669.2 855.4,671.1 850.8,672.8 C846.2,674.5 840.0,674.2 835.8,676.5 C831.6,678.8 827.6,683.7 825.7,686.6 C823.8,689.5 824.5,692.3 824.5,694.0 C824.5,695.7 826.3,695.3 825.7,696.6 C825.1,697.9 824.9,700.8 820.7,701.6 C816.5,702.4 806.1,702.0 800.6,701.6 C795.1,701.2 791.3,699.8 788.0,699.0 C784.7,698.2 783.1,696.2 780.6,696.6 C778.1,697.0 774.7,699.5 773.0,701.6 C771.3,703.7 770.9,707.8 770.5,709.0"/>
<path d="M907.3,551.0 C909.2,552.3 916.7,559.0 918.6,558.6 C920.5,558.2 918.6,550.2 918.6,548.5"/>
<path d="M918.6,556.0 C920.7,558.1 926.8,565.0 931.0,568.6 C935.2,572.2 938.7,574.9 943.7,577.4 C948.8,579.9 956.7,581.2 961.3,583.7 C965.9,586.2 967.1,590.7 971.3,592.4 C975.5,594.1 982.2,592.4 986.4,593.7 C990.6,595.0 993.0,598.3 996.4,600.0 C999.8,601.7 1003.1,603.1 1006.5,603.7 C1009.9,604.3 1014.0,602.9 1016.5,603.7 C1019.0,604.5 1020.7,607.9 1021.5,608.7"/>
</g>
<g fill="none" stroke="#2c2c14" stroke-opacity="0.55" stroke-width="0.9" stroke-dasharray="1.2 3.6">
<path d="M0.6,359.0 L0.6,712.0"/>
<path d="M0.0,21.6 L1024.0,21.6"/>
<path d="M0.0,711.3 L1024.0,711.3"/>
</g>
<g fill="none" stroke="#2c2c14" stroke-width="1.05" stroke-dasharray="3 2">
<path d="M0.0,549.8 L201.0,549.8"/>
</g>
</g>
</svg>
</body></html>
